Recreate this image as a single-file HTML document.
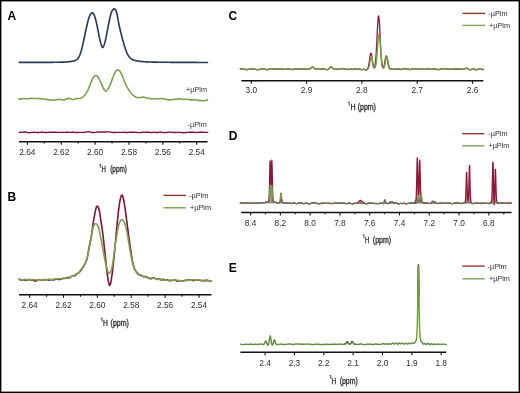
<!DOCTYPE html>
<html><head><meta charset="utf-8"><style>
html,body{margin:0;padding:0;background:#fff;}
svg{display:block;filter:opacity(1);}
text{font-family:"Liberation Sans", sans-serif;}
</style></head><body>
<svg width="520" height="393" viewBox="0 0 520 393">
<rect x="0" y="0" width="520" height="393" fill="#fff"/>
<defs>
<linearGradient id="gC" gradientUnits="userSpaceOnUse" x1="0" y1="60" x2="0" y2="65"><stop offset="0" stop-color="#76a04a"/><stop offset="1" stop-color="#76904a"/></linearGradient>
<linearGradient id="gD" gradientUnits="userSpaceOnUse" x1="0" y1="196" x2="0" y2="200.5"><stop offset="0" stop-color="#72a048"/><stop offset="1" stop-color="#6b775a"/></linearGradient>
<linearGradient id="gE" gradientUnits="userSpaceOnUse" x1="0" y1="336" x2="0" y2="341"><stop offset="0" stop-color="#6ea23e"/><stop offset="1" stop-color="#648a44"/></linearGradient>
</defs>
<text x="7.6" y="19.6" font-size="12.0" font-weight="bold" fill="#000">A</text>
<path d="M19.2 62.3L19.6 62.3L20 62.31L20.4 62.31L20.8 62.31L21.2 62.32L21.6 62.32L22 62.32L22.4 62.33L22.8 62.33L23.2 62.33L23.6 62.34L24 62.34L24.4 62.34L24.8 62.35L25.2 62.35L25.6 62.35L26 62.35L26.4 62.36L26.8 62.36L27.2 62.36L27.6 62.37L28 62.37L28.4 62.37L28.8 62.37L29.2 62.38L29.6 62.38L30 62.38L30.4 62.38L30.8 62.38L31.2 62.39L31.6 62.39L32 62.39L32.4 62.39L32.8 62.39L33.2 62.39L33.6 62.4L34 62.4L34.4 62.4L34.8 62.4L35.2 62.4L35.6 62.4L36 62.4L36.4 62.4L36.8 62.4L37.2 62.4L37.6 62.4L38 62.4L38.4 62.4L38.8 62.4L39.2 62.4L39.6 62.4L40 62.4L40.4 62.4L40.8 62.4L41.2 62.4L41.6 62.39L42 62.39L42.4 62.39L42.8 62.39L43.2 62.39L43.6 62.38L44 62.38L44.4 62.38L44.8 62.38L45.2 62.37L45.6 62.37L46 62.37L46.4 62.37L46.8 62.36L47.2 62.36L47.6 62.35L48 62.35L48.4 62.35L48.8 62.34L49.2 62.34L49.6 62.34L50 62.33L50.4 62.33L50.8 62.32L51.2 62.32L51.6 62.31L52 62.31L52.4 62.3L52.8 62.3L53.2 62.29L53.6 62.29L54 62.28L54.4 62.28L54.8 62.27L55.2 62.27L55.6 62.26L56 62.26L56.4 62.25L56.8 62.25L57.2 62.24L57.6 62.23L58 62.23L58.4 62.22L58.8 62.22L59.2 62.21L59.6 62.21L60 62.2L60.4 62.19L60.8 62.19L61.2 62.18L61.6 62.17L62 62.17L62.4 62.16L62.8 62.15L63.2 62.14L63.6 62.12L64 62.11L64.4 62.09L64.8 62.07L65.2 62.05L65.6 62.03L66 62L66.4 61.97L66.8 61.94L67.2 61.9L67.6 61.87L68 61.83L68.4 61.79L68.8 61.74L69.2 61.7L69.6 61.65L70 61.6L70.4 61.55L70.8 61.5L71.2 61.44L71.6 61.38L72 61.31L72.4 61.24L72.8 61.16L73.2 61.08L73.6 60.98L74 60.88L74.4 60.76L74.8 60.63L75.2 60.49L75.6 60.32L76 60.12L76.4 59.88L76.8 59.59L77.2 59.25L77.6 58.84L78 58.36L78.4 57.8L78.8 57.15L79.2 56.4L79.6 55.55L80 54.59L80.4 53.5L80.8 52.28L81.2 50.93L81.6 49.46L82 47.89L82.4 46.23L82.8 44.49L83.2 42.69L83.6 40.85L84 38.97L84.4 37.07L84.8 35.17L85.2 33.27L85.6 31.39L86 29.54L86.4 27.73L86.8 25.97L87.2 24.25L87.6 22.6L88 21.02L88.4 19.54L88.8 18.21L89.2 17.04L89.6 16.05L90 15.21L90.4 14.5L90.8 13.92L91.2 13.46L91.6 13.13L92 12.94L92.4 12.9L92.8 13.03L93.2 13.34L93.6 13.85L94 14.6L94.4 15.58L94.8 16.76L95.2 18.07L95.6 19.48L96 21L96.4 22.63L96.8 24.4L97.2 26.29L97.6 28.28L98 30.32L98.4 32.39L98.8 34.43L99.2 36.41L99.6 38.3L100 40.07L100.4 41.69L100.8 43.13L101.2 44.42L101.6 45.6L102 46.64L102.4 47.35L102.8 47.49L103.2 47.06L103.6 46.24L104 45.23L104.4 44.07L104.8 42.74L105.2 41.21L105.6 39.48L106 37.61L106.4 35.63L106.8 33.59L107.2 31.51L107.6 29.42L108 27.32L108.4 25.22L108.8 23.14L109.2 21.11L109.6 19.17L110 17.35L110.4 15.7L110.8 14.23L111.2 12.96L111.6 11.88L112 11L112.4 10.31L112.8 9.79L113.2 9.4L113.6 9.11L114 8.93L114.4 8.9L114.8 9.04L115.2 9.36L115.6 9.89L116 10.67L116.4 11.75L116.8 13.2L117.2 15.02L117.6 17.1L118 19.33L118.4 21.58L118.8 23.72L119.2 25.69L119.6 27.52L120 29.24L120.4 30.89L120.8 32.51L121.2 34.09L121.6 35.66L122 37.2L122.4 38.72L122.8 40.21L123.2 41.67L123.6 43.09L124 44.47L124.4 45.8L124.8 47.08L125.2 48.31L125.6 49.47L126 50.58L126.4 51.61L126.8 52.58L127.2 53.48L127.6 54.3L128 55.04L128.4 55.71L128.8 56.31L129.2 56.85L129.6 57.33L130 57.75L130.4 58.13L130.8 58.47L131.2 58.77L131.6 59.04L132 59.28L132.4 59.5L132.8 59.69L133.2 59.87L133.6 60.03L134 60.17L134.4 60.3L134.8 60.42L135.2 60.53L135.6 60.62L136 60.71L136.4 60.8L136.8 60.88L137.2 60.95L137.6 61.01L138 61.08L138.4 61.13L138.8 61.19L139.2 61.24L139.6 61.29L140 61.33L140.4 61.38L140.8 61.42L141.2 61.46L141.6 61.5L142 61.54L142.4 61.57L142.8 61.61L143.2 61.64L143.6 61.67L144 61.7L144.4 61.73L144.8 61.75L145.2 61.78L145.6 61.8L146 61.82L146.4 61.85L146.8 61.87L147.2 61.89L147.6 61.9L148 61.92L148.4 61.94L148.8 61.95L149.2 61.97L149.6 61.99L150 62L150.4 62.01L150.8 62.03L151.2 62.04L151.6 62.05L152 62.06L152.4 62.08L152.8 62.09L153.2 62.1L153.6 62.11L154 62.12L154.4 62.13L154.8 62.14L155.2 62.15L155.6 62.15L156 62.16L156.4 62.17L156.8 62.18L157.2 62.19L157.6 62.19L158 62.2L158.4 62.2L158.8 62.21L159.2 62.22L159.6 62.22L160 62.23L160.4 62.23L160.8 62.24L161.2 62.24L161.6 62.24L162 62.25L162.4 62.25L162.8 62.26L163.2 62.26L163.6 62.26L164 62.27L164.4 62.27L164.8 62.27L165.2 62.27L165.6 62.28L166 62.28L166.4 62.28L166.8 62.28L167.2 62.29L167.6 62.29L168 62.29L168.4 62.29L168.8 62.29L169.2 62.3L169.6 62.3L170 62.3L170.4 62.3L170.8 62.3L171.2 62.31L171.6 62.31L172 62.31L172.4 62.31L172.8 62.31L173.2 62.32L173.6 62.32L174 62.32L174.4 62.32L174.8 62.32L175.2 62.33L175.6 62.33L176 62.33L176.4 62.33L176.8 62.33L177.2 62.34L177.6 62.34L178 62.34L178.4 62.34L178.8 62.34L179.2 62.35L179.6 62.35L180 62.35L180.4 62.35L180.8 62.35L181.2 62.36L181.6 62.36L182 62.36L182.4 62.36L182.8 62.37L183.2 62.37L183.6 62.37L184 62.37L184.4 62.37L184.8 62.38L185.2 62.38L185.6 62.38L186 62.38L186.4 62.38L186.8 62.39L187.2 62.39L187.6 62.39L188 62.39L188.4 62.4L188.8 62.4L189.2 62.4L189.6 62.4L190 62.4L190.4 62.41L190.8 62.41L191.2 62.41L191.6 62.41L192 62.41L192.4 62.42L192.8 62.42L193.2 62.42L193.6 62.42L194 62.43L194.4 62.43L194.8 62.43L195.2 62.43L195.6 62.43L196 62.44L196.4 62.44L196.8 62.44L197.2 62.44L197.6 62.45L198 62.45L198.4 62.45L198.8 62.45L199.2 62.45L199.6 62.46L200 62.46L200.4 62.46L200.8 62.46L201.2 62.47L201.6 62.47L202 62.47L202.4 62.47L202.8 62.47L203.2 62.48L203.6 62.48L204 62.48L204.4 62.48L204.8 62.49L205.2 62.49L205.6 62.49L206 62.49L206.4 62.49L206.8 62.5L207.2 62.5L207.5 62.5" fill="none" stroke="#2e3858" stroke-width="1.65" stroke-linejoin="round" stroke-linecap="round"/>
<path d="M19 99.15L19.4 99.14L19.8 99.12L20.2 99.1L20.6 99.06L21 99.02L21.4 98.96L21.8 98.88L22.2 98.8L22.6 98.71L23 98.64L23.4 98.57L23.8 98.54L24.2 98.53L24.6 98.56L25 98.61L25.4 98.67L25.8 98.73L26.2 98.78L26.6 98.82L27 98.82L27.4 98.81L27.8 98.78L28.2 98.73L28.6 98.67L29 98.61L29.4 98.55L29.8 98.49L30.2 98.44L30.6 98.39L31 98.36L31.4 98.34L31.8 98.34L32.2 98.36L32.6 98.39L33 98.42L33.4 98.45L33.8 98.48L34.2 98.49L34.6 98.5L35 98.49L35.4 98.49L35.8 98.48L36.2 98.47L36.6 98.47L37 98.48L37.4 98.49L37.8 98.51L38.2 98.53L38.6 98.55L39 98.57L39.4 98.59L39.8 98.61L40.2 98.63L40.6 98.66L41 98.7L41.4 98.75L41.8 98.81L42.2 98.89L42.6 98.96L43 99.04L43.4 99.11L43.8 99.17L44.2 99.21L44.6 99.24L45 99.26L45.4 99.27L45.8 99.29L46.2 99.31L46.6 99.36L47 99.42L47.4 99.49L47.8 99.58L48.2 99.66L48.6 99.74L49 99.8L49.4 99.85L49.8 99.89L50.2 99.92L50.6 99.94L51 99.96L51.4 99.99L51.8 100.03L52.2 100.08L52.6 100.13L53 100.17L53.4 100.2L53.8 100.21L54.2 100.2L54.6 100.16L55 100.1L55.4 100.01L55.8 99.92L56.2 99.82L56.6 99.73L57 99.64L57.4 99.56L57.8 99.5L58.2 99.44L58.6 99.4L59 99.38L59.4 99.37L59.8 99.39L60.2 99.43L60.6 99.5L61 99.59L61.4 99.69L61.8 99.79L62.2 99.89L62.6 99.96L63 100L63.4 100L63.8 99.96L64.2 99.88L64.6 99.76L65 99.62L65.4 99.47L65.8 99.3L66.2 99.12L66.6 98.94L67 98.77L67.4 98.62L67.8 98.49L68.2 98.39L68.6 98.35L69 98.35L69.4 98.42L69.8 98.52L70.2 98.67L70.6 98.83L71 99L71.4 99.16L71.8 99.31L72.2 99.44L72.6 99.52L73 99.56L73.4 99.55L73.8 99.49L74.2 99.39L74.6 99.26L75 99.1L75.4 98.93L75.8 98.78L76.2 98.65L76.6 98.56L77 98.51L77.4 98.48L77.8 98.48L78.2 98.49L78.6 98.51L79 98.51L79.4 98.51L79.8 98.48L80.2 98.42L80.6 98.32L81 98.19L81.4 98.01L81.8 97.79L82.2 97.53L82.6 97.23L83 96.89L83.4 96.53L83.8 96.15L84.2 95.74L84.6 95.32L85 94.87L85.4 94.39L85.8 93.86L86.2 93.28L86.6 92.64L87 91.93L87.4 91.15L87.8 90.3L88.2 89.4L88.6 88.45L89 87.48L89.4 86.51L89.8 85.53L90.2 84.55L90.6 83.56L91 82.57L91.4 81.58L91.8 80.59L92.2 79.64L92.6 78.74L93 77.95L93.4 77.28L93.8 76.74L94.2 76.34L94.6 76.05L95 75.84L95.4 75.7L95.8 75.64L96.2 75.67L96.6 75.79L97 76.02L97.4 76.36L97.8 76.82L98.2 77.39L98.6 78.06L99 78.79L99.4 79.55L99.8 80.34L100.2 81.16L100.6 82L101 82.86L101.4 83.75L101.8 84.66L102.2 85.58L102.6 86.49L103 87.39L103.4 88.24L103.8 89.01L104.2 89.68L104.6 90.23L105 90.63L105.4 90.88L105.8 90.98L106.2 90.92L106.6 90.72L107 90.38L107.4 89.91L107.8 89.34L108.2 88.68L108.6 87.94L109 87.15L109.4 86.31L109.8 85.43L110.2 84.52L110.6 83.57L111 82.59L111.4 81.57L111.8 80.52L112.2 79.45L112.6 78.36L113 77.27L113.4 76.19L113.8 75.14L114.2 74.14L114.6 73.22L115 72.39L115.4 71.67L115.8 71.08L116.2 70.62L116.6 70.28L117 70.04L117.4 69.92L117.8 69.89L118.2 69.97L118.6 70.15L119 70.42L119.4 70.79L119.8 71.25L120.2 71.8L120.6 72.44L121 73.17L121.4 73.97L121.8 74.85L122.2 75.77L122.6 76.72L123 77.7L123.4 78.69L123.8 79.69L124.2 80.67L124.6 81.64L125 82.58L125.4 83.49L125.8 84.37L126.2 85.22L126.6 86.03L127 86.8L127.4 87.54L127.8 88.24L128.2 88.92L128.6 89.57L129 90.2L129.4 90.8L129.8 91.39L130.2 91.95L130.6 92.48L131 92.98L131.4 93.45L131.8 93.88L132.2 94.29L132.6 94.66L133 95.02L133.4 95.35L133.8 95.66L134.2 95.97L134.6 96.25L135 96.52L135.4 96.77L135.8 96.99L136.2 97.18L136.6 97.34L137 97.46L137.4 97.54L137.8 97.59L138.2 97.62L138.6 97.63L139 97.62L139.4 97.6L139.8 97.56L140.2 97.53L140.6 97.48L141 97.43L141.4 97.37L141.8 97.3L142.2 97.24L142.6 97.18L143 97.14L143.4 97.12L143.8 97.13L144.2 97.19L144.6 97.28L145 97.4L145.4 97.53L145.8 97.66L146.2 97.79L146.6 97.89L147 97.96L147.4 98.01L147.8 98.05L148.2 98.1L148.6 98.15L149 98.23L149.4 98.33L149.8 98.45L150.2 98.58L150.6 98.69L151 98.79L151.4 98.85L151.8 98.86L152.2 98.84L152.6 98.79L153 98.73L153.4 98.68L153.8 98.65L154.2 98.65L154.6 98.69L155 98.75L155.4 98.82L155.8 98.9L156.2 98.96L156.6 99L157 99L157.4 98.98L157.8 98.94L158.2 98.89L158.6 98.82L159 98.76L159.4 98.7L159.8 98.64L160.2 98.59L160.6 98.56L161 98.54L161.4 98.54L161.8 98.56L162.2 98.6L162.6 98.65L163 98.72L163.4 98.8L163.8 98.87L164.2 98.95L164.6 99.04L165 99.12L165.4 99.2L165.8 99.29L166.2 99.38L166.6 99.47L167 99.57L167.4 99.66L167.8 99.75L168.2 99.83L168.6 99.9L169 99.94L169.4 99.97L169.8 99.97L170.2 99.95L170.6 99.92L171 99.87L171.4 99.81L171.8 99.73L172.2 99.66L172.6 99.58L173 99.5L173.4 99.43L173.8 99.37L174.2 99.31L174.6 99.27L175 99.23L175.4 99.2L175.8 99.17L176.2 99.14L176.6 99.1L177 99.06L177.4 99.01L177.8 98.97L178.2 98.93L178.6 98.9L179 98.89L179.4 98.9L179.8 98.92L180.2 98.96L180.6 99.02L181 99.08L181.4 99.16L181.8 99.24L182.2 99.31L182.6 99.39L183 99.45L183.4 99.49L183.8 99.51L184.2 99.49L184.6 99.45L185 99.39L185.4 99.33L185.8 99.27L186.2 99.23L186.6 99.22L187 99.24L187.4 99.29L187.8 99.37L188.2 99.45L188.6 99.54L189 99.62L189.4 99.7L189.8 99.76L190.2 99.81L190.6 99.84L191 99.86L191.4 99.87L191.8 99.87L192.2 99.85L192.6 99.83L193 99.81L193.4 99.79L193.8 99.77L194.2 99.76L194.6 99.76L195 99.78L195.4 99.81L195.8 99.85L196.2 99.91L196.6 99.99L197 100.09L197.4 100.19L197.8 100.3L198.2 100.4L198.6 100.49L199 100.56L199.4 100.6L199.8 100.63L200.2 100.64L200.6 100.64L201 100.64L201.4 100.64L201.8 100.65L202.2 100.67L202.6 100.68L203 100.7L203.4 100.7L203.8 100.69L204.2 100.65L204.6 100.6L205 100.53L205.4 100.44L205.8 100.35L206.2 100.25L206.6 100.15L207 100.05L207.4 99.95L207.5 99.92" fill="none" stroke="#7da150" stroke-width="1.6" stroke-linejoin="round" stroke-linecap="round"/>
<path d="M19.2 132.27L19.7 132.3L20.2 132.32L20.7 132.34L21.2 132.34L21.7 132.33L22.2 132.29L22.7 132.22L23.2 132.15L23.7 132.07L24.2 132.01L24.7 131.97L25.2 131.98L25.7 132.05L26.2 132.15L26.7 132.27L27.2 132.41L27.7 132.53L28.2 132.62L28.7 132.67L29.2 132.69L29.7 132.67L30.2 132.63L30.7 132.58L31.2 132.52L31.7 132.46L32.2 132.41L32.7 132.37L33.2 132.33L33.7 132.31L34.2 132.3L34.7 132.31L35.2 132.34L35.7 132.37L36.2 132.41L36.7 132.44L37.2 132.47L37.7 132.48L38.2 132.48L38.7 132.47L39.2 132.45L39.7 132.42L40.2 132.39L40.7 132.36L41.2 132.32L41.7 132.29L42.2 132.27L42.7 132.26L43.2 132.27L43.7 132.3L44.2 132.34L44.7 132.39L45.2 132.44L45.7 132.48L46.2 132.5L46.7 132.49L47.2 132.46L47.7 132.42L48.2 132.38L48.7 132.34L49.2 132.3L49.7 132.29L50.2 132.28L50.7 132.29L51.2 132.3L51.7 132.3L52.2 132.3L52.7 132.29L53.2 132.27L53.7 132.25L54.2 132.23L54.7 132.23L55.2 132.23L55.7 132.25L56.2 132.29L56.7 132.33L57.2 132.37L57.7 132.4L58.2 132.42L58.7 132.42L59.2 132.4L59.7 132.38L60.2 132.36L60.7 132.34L61.2 132.34L61.7 132.34L62.2 132.37L62.7 132.39L63.2 132.42L63.7 132.43L64.2 132.43L64.7 132.41L65.2 132.38L65.7 132.34L66.2 132.3L66.7 132.27L67.2 132.26L67.7 132.27L68.2 132.29L68.7 132.32L69.2 132.34L69.7 132.36L70.2 132.37L70.7 132.35L71.2 132.32L71.7 132.28L72.2 132.24L72.7 132.22L73.2 132.22L73.7 132.24L74.2 132.28L74.7 132.34L75.2 132.39L75.7 132.44L76.2 132.48L76.7 132.49L77.2 132.48L77.7 132.46L78.2 132.43L78.7 132.4L79.2 132.38L79.7 132.36L80.2 132.36L80.7 132.36L81.2 132.36L81.7 132.37L82.2 132.38L82.7 132.38L83.2 132.38L83.7 132.36L84.2 132.33L84.7 132.29L85.2 132.22L85.7 132.14L86.2 132.05L86.7 131.96L87.2 131.88L87.7 131.82L88.2 131.8L88.7 131.81L89.2 131.86L89.7 131.93L90.2 132.03L90.7 132.14L91.2 132.26L91.7 132.37L92.2 132.48L92.7 132.56L93.2 132.62L93.7 132.64L94.2 132.63L94.7 132.58L95.2 132.49L95.7 132.39L96.2 132.28L96.7 132.18L97.2 132.1L97.7 132.06L98.2 132.04L98.7 132.04L99.2 132.06L99.7 132.07L100.2 132.08L100.7 132.07L101.2 132.05L101.7 132.03L102.2 132L102.7 131.98L103.2 131.96L103.7 131.95L104.2 131.96L104.7 131.96L105.2 131.96L105.7 131.95L106.2 131.93L106.7 131.9L107.2 131.87L107.7 131.85L108.2 131.85L108.7 131.87L109.2 131.91L109.7 131.99L110.2 132.08L110.7 132.18L111.2 132.27L111.7 132.35L112.2 132.42L112.7 132.46L113.2 132.48L113.7 132.49L114.2 132.48L114.7 132.47L115.2 132.45L115.7 132.44L116.2 132.42L116.7 132.4L117.2 132.39L117.7 132.38L118.2 132.38L118.7 132.38L119.2 132.39L119.7 132.4L120.2 132.4L120.7 132.4L121.2 132.39L121.7 132.38L122.2 132.36L122.7 132.34L123.2 132.32L123.7 132.32L124.2 132.32L124.7 132.35L125.2 132.39L125.7 132.43L126.2 132.46L126.7 132.48L127.2 132.48L127.7 132.45L128.2 132.4L128.7 132.34L129.2 132.27L129.7 132.22L130.2 132.18L130.7 132.17L131.2 132.18L131.7 132.2L132.2 132.23L132.7 132.26L133.2 132.29L133.7 132.3L134.2 132.31L134.7 132.32L135.2 132.33L135.7 132.35L136.2 132.39L136.7 132.43L137.2 132.49L137.7 132.55L138.2 132.59L138.7 132.62L139.2 132.62L139.7 132.59L140.2 132.53L140.7 132.45L141.2 132.37L141.7 132.3L142.2 132.24L142.7 132.19L143.2 132.17L143.7 132.17L144.2 132.17L144.7 132.18L145.2 132.19L145.7 132.19L146.2 132.2L146.7 132.2L147.2 132.21L147.7 132.23L148.2 132.27L148.7 132.31L149.2 132.36L149.7 132.42L150.2 132.46L150.7 132.49L151.2 132.5L151.7 132.47L152.2 132.43L152.7 132.39L153.2 132.34L153.7 132.32L154.2 132.31L154.7 132.35L155.2 132.4L155.7 132.47L156.2 132.52L156.7 132.56L157.2 132.55L157.7 132.49L158.2 132.4L158.7 132.3L159.2 132.19L159.7 132.11L160.2 132.07L160.7 132.08L161.2 132.14L161.7 132.23L162.2 132.33L162.7 132.43L163.2 132.52L163.7 132.58L164.2 132.61L164.7 132.61L165.2 132.6L165.7 132.56L166.2 132.51L166.7 132.44L167.2 132.36L167.7 132.29L168.2 132.22L168.7 132.17L169.2 132.14L169.7 132.14L170.2 132.16L170.7 132.2L171.2 132.26L171.7 132.31L172.2 132.37L172.7 132.43L173.2 132.47L173.7 132.5L174.2 132.53L174.7 132.54L175.2 132.53L175.7 132.51L176.2 132.48L176.7 132.45L177.2 132.41L177.7 132.38L178.2 132.36L178.7 132.36L179.2 132.36L179.7 132.38L180.2 132.41L180.7 132.45L181.2 132.5L181.7 132.55L182.2 132.6L182.7 132.65L183.2 132.69L183.7 132.71L184.2 132.71L184.7 132.68L185.2 132.63L185.7 132.57L186.2 132.5L186.7 132.44L187.2 132.39L187.7 132.36L188.2 132.34L188.7 132.33L189.2 132.32L189.7 132.32L190.2 132.31L190.7 132.29L191.2 132.27L191.7 132.25L192.2 132.23L192.7 132.23L193.2 132.23L193.7 132.26L194.2 132.3L194.7 132.35L195.2 132.39L195.7 132.43L196.2 132.45L196.7 132.45L197.2 132.43L197.7 132.41L198.2 132.38L198.7 132.34L199.2 132.32L199.7 132.31L200.2 132.3L200.7 132.31L201.2 132.31L201.7 132.32L202.2 132.32L202.7 132.32L203.2 132.32L203.7 132.32L204.2 132.32L204.7 132.32L205.2 132.33L205.7 132.35L206.2 132.37L206.7 132.4L207.2 132.42L207.7 132.44" fill="none" stroke="#801237" stroke-width="1.4" stroke-linejoin="round" stroke-linecap="round"/>
<text x="207" y="91.9" font-size="7.3" text-anchor="end" fill="#2e2e2e">+µPlm</text>
<text x="206.8" y="126.9" font-size="7.3" text-anchor="end" fill="#2e2e2e">-µPlm</text>
<line x1="19" y1="141.7" x2="207.5" y2="141.7" stroke="#111" stroke-width="1.5"/>
<line x1="27.4" y1="141.7" x2="27.4" y2="144.7" stroke="#111" stroke-width="1.1"/>
<text x="27.4" y="155.3" font-size="8.15" text-anchor="middle" textLength="16.15" lengthAdjust="spacingAndGlyphs" fill="#2e2e2e">2.64</text>
<line x1="61.26" y1="141.7" x2="61.26" y2="144.7" stroke="#111" stroke-width="1.1"/>
<text x="61.26" y="155.3" font-size="8.15" text-anchor="middle" textLength="16.15" lengthAdjust="spacingAndGlyphs" fill="#2e2e2e">2.62</text>
<line x1="95.12" y1="141.7" x2="95.12" y2="144.7" stroke="#111" stroke-width="1.1"/>
<text x="95.12" y="155.3" font-size="8.15" text-anchor="middle" textLength="16.15" lengthAdjust="spacingAndGlyphs" fill="#2e2e2e">2.60</text>
<line x1="128.98" y1="141.7" x2="128.98" y2="144.7" stroke="#111" stroke-width="1.1"/>
<text x="128.98" y="155.3" font-size="8.15" text-anchor="middle" textLength="16.15" lengthAdjust="spacingAndGlyphs" fill="#2e2e2e">2.58</text>
<line x1="162.84" y1="141.7" x2="162.84" y2="144.7" stroke="#111" stroke-width="1.1"/>
<text x="162.84" y="155.3" font-size="8.15" text-anchor="middle" textLength="16.15" lengthAdjust="spacingAndGlyphs" fill="#2e2e2e">2.56</text>
<line x1="196.7" y1="141.7" x2="196.7" y2="144.7" stroke="#111" stroke-width="1.1"/>
<text x="196.7" y="155.3" font-size="8.15" text-anchor="middle" textLength="16.15" lengthAdjust="spacingAndGlyphs" fill="#2e2e2e">2.54</text>
<line x1="44.33" y1="141.7" x2="44.33" y2="143.6" stroke="#111" stroke-width="1.1"/>
<line x1="78.19" y1="141.7" x2="78.19" y2="143.6" stroke="#111" stroke-width="1.1"/>
<line x1="112.05" y1="141.7" x2="112.05" y2="143.6" stroke="#111" stroke-width="1.1"/>
<line x1="145.91" y1="141.7" x2="145.91" y2="143.6" stroke="#111" stroke-width="1.1"/>
<line x1="179.77" y1="141.7" x2="179.77" y2="143.6" stroke="#111" stroke-width="1.1"/>
<path d="M99.45 164.9L100.35 163.9L100.35 167.8" fill="none" stroke="#333" stroke-width="0.85"/>
<text x="101.5" y="172.4" font-size="8.4" textLength="4.4" lengthAdjust="spacingAndGlyphs" fill="#2e2e2e" stroke="#2e2e2e" stroke-width="0.32">H</text>
<text x="110.2" y="172.4" font-size="8.4" textLength="16.8" lengthAdjust="spacingAndGlyphs" fill="#2e2e2e" stroke="#2e2e2e" stroke-width="0.32">(ppm)</text>
<text x="7.6" y="201.2" font-size="12.0" font-weight="bold" fill="#000">B</text>
<path d="M19.2 279.13L19.6 279.3L20 279.52L20.4 279.75L20.8 279.96L21.2 280.09L21.6 280.14L22 280.11L22.4 280.03L22.8 279.94L23.2 279.86L23.6 279.82L24 279.82L24.4 279.85L24.8 279.9L25.2 279.96L25.6 280.03L26 280.09L26.4 280.13L26.8 280.13L27.2 280.08L27.6 279.97L28 279.84L28.4 279.7L28.8 279.6L29.2 279.58L29.6 279.65L30 279.79L30.4 279.95L30.8 280.08L31.2 280.14L31.6 280.11L32 280.03L32.4 279.93L32.8 279.9L33.2 279.97L33.6 280.18L34 280.49L34.4 280.81L34.8 281.08L35.2 281.23L35.6 281.2L36 281.03L36.4 280.78L36.8 280.52L37.2 280.29L37.6 280.14L38 280.08L38.4 280.06L38.8 280.08L39.2 280.1L39.6 280.12L40 280.13L40.4 280.13L40.8 280.12L41.2 280.1L41.6 280.08L42 280.06L42.4 280.03L42.8 280L43.2 279.96L43.6 279.92L44 279.88L44.4 279.84L44.8 279.81L45.2 279.8L45.6 279.8L46 279.81L46.4 279.84L46.8 279.88L47.2 279.93L47.6 279.99L48 280.05L48.4 280.09L48.8 280.11L49.2 280.09L49.6 280.03L50 279.95L50.4 279.85L50.8 279.78L51.2 279.74L51.6 279.76L52 279.81L52.4 279.88L52.8 279.93L53.2 279.93L53.6 279.88L54 279.78L54.4 279.65L54.8 279.51L55.2 279.39L55.6 279.3L56 279.25L56.4 279.22L56.8 279.22L57.2 279.26L57.6 279.32L58 279.39L58.4 279.46L58.8 279.5L59.2 279.51L59.6 279.47L60 279.38L60.4 279.27L60.8 279.13L61.2 278.99L61.6 278.85L62 278.72L62.4 278.6L62.8 278.5L63.2 278.41L63.6 278.35L64 278.3L64.4 278.26L64.8 278.23L65.2 278.18L65.6 278.13L66 278.08L66.4 278.03L66.8 277.99L67.2 277.98L67.6 278L68 278.02L68.4 278.03L68.8 277.99L69.2 277.89L69.6 277.7L70 277.45L70.4 277.17L70.8 276.88L71.2 276.62L71.6 276.4L72 276.22L72.4 276.09L72.8 275.99L73.2 275.92L73.6 275.86L74 275.81L74.4 275.73L74.8 275.61L75.2 275.42L75.6 275.15L76 274.82L76.4 274.46L76.8 274.09L77.2 273.74L77.6 273.42L78 273.13L78.4 272.84L78.8 272.54L79.2 272.21L79.6 271.84L80 271.42L80.4 270.97L80.8 270.47L81.2 269.95L81.6 269.39L82 268.81L82.4 268.22L82.8 267.63L83.2 267.01L83.6 266.37L84 265.69L84.4 264.97L84.8 264.22L85.2 263.42L85.6 262.58L86 261.64L86.4 260.54L86.8 259.24L87.2 257.68L87.6 255.83L88 253.76L88.4 251.53L88.8 249.25L89.2 247.04L89.6 245L90 243.13L90.4 241.32L90.8 239.41L91.2 237.24L91.6 234.67L92 231.72L92.4 228.61L92.8 225.57L93.2 222.81L93.6 220.36L94 218.13L94.4 216.01L94.8 213.91L95.2 211.82L95.6 209.9L96 208.31L96.4 207.19L96.8 206.52L97.2 206.24L97.6 206.3L98 206.69L98.4 207.46L98.8 208.64L99.2 210.25L99.6 212.26L100 214.6L100.4 217.19L100.8 219.93L101.2 222.67L101.6 225.33L102 227.95L102.4 230.7L102.8 233.72L103.2 237.04L103.6 240.6L104 244.31L104.4 248.08L104.8 251.87L105.2 255.65L105.6 259.37L106 263.02L106.4 266.56L106.8 269.96L107.2 273.2L107.6 276.23L108 278.98L108.4 281.39L108.8 283.36L109.2 284.79L109.6 285.44L110 285.09L110.4 283.97L110.8 282.33L111.2 280.25L111.6 277.75L112 274.89L112.4 271.71L112.8 268.31L113.2 264.75L113.6 261.08L114 257.28L114.4 253.33L114.8 249.2L115.2 244.91L115.6 240.51L116 236.06L116.4 231.65L116.8 227.34L117.2 223.17L117.6 219.17L118 215.35L118.4 211.75L118.8 208.42L119.2 205.41L119.6 202.79L120 200.54L120.4 198.66L120.8 197.11L121.2 195.92L121.6 195.2L122 195.06L122.4 195.54L122.8 196.55L123.2 197.97L123.6 199.71L124 201.74L124.4 204.05L124.8 206.63L125.2 209.4L125.6 212.31L126 215.3L126.4 218.31L126.8 221.35L127.2 224.43L127.6 227.55L128 230.68L128.4 233.79L128.8 236.84L129.2 239.82L129.6 242.7L130 245.48L130.4 248.18L130.8 250.82L131.2 253.43L131.6 256.02L132 258.53L132.4 260.88L132.8 263L133.2 264.82L133.6 266.34L134 267.58L134.4 268.6L134.8 269.45L135.2 270.16L135.6 270.78L136 271.33L136.4 271.82L136.8 272.3L137.2 272.77L137.6 273.27L138 273.75L138.4 274.2L138.8 274.57L139.2 274.84L139.6 274.99L140 275.06L140.4 275.1L140.8 275.17L141.2 275.31L141.6 275.55L142 275.84L142.4 276.15L142.8 276.41L143.2 276.59L143.6 276.65L144 276.61L144.4 276.53L144.8 276.46L145.2 276.45L145.6 276.53L146 276.68L146.4 276.88L146.8 277.11L147.2 277.33L147.6 277.53L148 277.71L148.4 277.88L148.8 278.04L149.2 278.2L149.6 278.36L150 278.5L150.4 278.61L150.8 278.65L151.2 278.61L151.6 278.49L152 278.3L152.4 278.1L152.8 277.94L153.2 277.85L153.6 277.88L154 277.99L154.4 278.17L154.8 278.38L155.2 278.59L155.6 278.76L156 278.91L156.4 279.01L156.8 279.07L157.2 279.08L157.6 279.05L158 278.99L158.4 278.96L158.8 278.96L159.2 279.04L159.6 279.22L160 279.45L160.4 279.68L160.8 279.86L161.2 279.94L161.6 279.89L162 279.75L162.4 279.57L162.8 279.41L163.2 279.34L163.6 279.4L164 279.56L164.4 279.75L164.8 279.92L165.2 280.03L165.6 280.03L166 279.96L166.4 279.86L166.8 279.79L167.2 279.81L167.6 279.93L168 280.13L168.4 280.37L168.8 280.58L169.2 280.72L169.6 280.75L170 280.71L170.4 280.61L170.8 280.51L171.2 280.43L171.6 280.41L172 280.43L172.4 280.45L172.8 280.46L173.2 280.43L173.6 280.34L174 280.22L174.4 280.11L174.8 280.06L175.2 280.09L175.6 280.24L176 280.47L176.4 280.72L176.8 280.96L177.2 281.12L177.6 281.17L178 281.14L178.4 281.04L178.8 280.92L179.2 280.82L179.6 280.75L180 280.73L180.4 280.72L180.8 280.74L181.2 280.77L181.6 280.79L182 280.82L182.4 280.83L182.8 280.83L183.2 280.81L183.6 280.78L184 280.72L184.4 280.66L184.8 280.58L185.2 280.5L185.6 280.41L186 280.32L186.4 280.24L186.8 280.17L187.2 280.12L187.6 280.09L188 280.07L188.4 280.06L188.8 280.04L189.2 280.01L189.6 279.96L190 279.91L190.4 279.88L190.8 279.89L191.2 279.96L191.6 280.1L192 280.28L192.4 280.45L192.8 280.57L193.2 280.6L193.6 280.5L194 280.32L194.4 280.11L194.8 279.9L195.2 279.77L195.6 279.73L196 279.77L196.4 279.87L196.8 279.98L197.2 280.09L197.6 280.16L198 280.2L198.4 280.23L198.8 280.24L199.2 280.26L199.6 280.3L200 280.34L200.4 280.4L200.8 280.47L201.2 280.54L201.6 280.62L202 280.69L202.4 280.75L202.8 280.78L203.2 280.77L203.6 280.72L204 280.63L204.4 280.53L204.8 280.43L205.2 280.34L205.6 280.27L206 280.23L206.4 280.22L206.8 280.24L207.2 280.29L207.6 280.38L208 280.5L208.4 280.63L208.8 280.77L209.2 280.9L209.6 281.03L210 281.14L210.4 281.23L210.8 281.31L211.2 281.36L211.4 281.37" fill="none" stroke="#801237" stroke-width="1.6" stroke-linejoin="round" stroke-linecap="round"/>
<path d="M19.2 279.46L19.6 279.58L20 279.7L20.4 279.81L20.8 279.91L21.2 279.98L21.6 280.02L22 280.01L22.4 279.98L22.8 279.9L23.2 279.8L23.6 279.66L24 279.52L24.4 279.4L24.8 279.31L25.2 279.28L25.6 279.33L26 279.43L26.4 279.55L26.8 279.67L27.2 279.74L27.6 279.76L28 279.73L28.4 279.68L28.8 279.64L29.2 279.63L29.6 279.67L30 279.73L30.4 279.81L30.8 279.85L31.2 279.85L31.6 279.79L32 279.68L32.4 279.56L32.8 279.47L33.2 279.43L33.6 279.47L34 279.57L34.4 279.69L34.8 279.81L35.2 279.9L35.6 279.93L36 279.92L36.4 279.9L36.8 279.88L37.2 279.89L37.6 279.94L38 280.03L38.4 280.11L38.8 280.18L39.2 280.2L39.6 280.17L40 280.09L40.4 280L40.8 279.91L41.2 279.86L41.6 279.86L42 279.89L42.4 279.92L42.8 279.93L43.2 279.87L43.6 279.74L44 279.57L44.4 279.41L44.8 279.31L45.2 279.32L45.6 279.46L46 279.7L46.4 279.95L46.8 280.13L47.2 280.19L47.6 280.06L48 279.8L48.4 279.5L48.8 279.22L49.2 279.06L49.6 279.06L50 279.19L50.4 279.39L50.8 279.58L51.2 279.71L51.6 279.73L52 279.66L52.4 279.53L52.8 279.38L53.2 279.23L53.6 279.13L54 279.05L54.4 279.01L54.8 278.98L55.2 278.96L55.6 278.95L56 278.94L56.4 278.93L56.8 278.9L57.2 278.87L57.6 278.83L58 278.79L58.4 278.75L58.8 278.72L59.2 278.71L59.6 278.73L60 278.77L60.4 278.8L60.8 278.82L61.2 278.79L61.6 278.73L62 278.63L62.4 278.53L62.8 278.46L63.2 278.43L63.6 278.46L64 278.53L64.4 278.58L64.8 278.59L65.2 278.51L65.6 278.31L66 278.03L66.4 277.73L66.8 277.46L67.2 277.26L67.6 277.17L68 277.16L68.4 277.2L68.8 277.22L69.2 277.19L69.6 277.08L70 276.9L70.4 276.7L70.8 276.51L71.2 276.37L71.6 276.31L72 276.3L72.4 276.29L72.8 276.25L73.2 276.12L73.6 275.88L74 275.57L74.4 275.21L74.8 274.87L75.2 274.58L75.6 274.37L76 274.23L76.4 274.13L76.8 274.04L77.2 273.92L77.6 273.75L78 273.52L78.4 273.21L78.8 272.83L79.2 272.35L79.6 271.79L80 271.17L80.4 270.53L80.8 269.9L81.2 269.33L81.6 268.82L82 268.38L82.4 267.96L82.8 267.53L83.2 267.04L83.6 266.46L84 265.79L84.4 265.03L84.8 264.21L85.2 263.33L85.6 262.4L86 261.4L86.4 260.29L86.8 259.04L87.2 257.63L87.6 256.04L88 254.27L88.4 252.32L88.8 250.21L89.2 247.99L89.6 245.7L90 243.41L90.4 241.13L90.8 238.86L91.2 236.61L91.6 234.36L92 232.16L92.4 230.14L92.8 228.45L93.2 227.13L93.6 226.09L94 225.25L94.4 224.58L94.8 224.1L95.2 223.81L95.6 223.71L96 223.74L96.4 223.89L96.8 224.17L97.2 224.61L97.6 225.23L98 226.01L98.4 226.95L98.8 228.13L99.2 229.71L99.6 231.78L100 234.06L100.4 236.22L100.8 238.27L101.2 240.27L101.6 242.27L102 244.33L102.4 246.45L102.8 248.61L103.2 250.8L103.6 253L104 255.18L104.4 257.3L104.8 259.34L105.2 261.24L105.6 263.01L106 264.68L106.4 266.28L106.8 267.83L107.2 269.34L107.6 270.74L108 271.91L108.4 272.77L108.8 273.29L109.2 273.45L109.6 273.23L110 272.72L110.4 271.99L110.8 271.07L111.2 269.97L111.6 268.64L112 267.03L112.4 265.09L112.8 262.8L113.2 260.21L113.6 257.32L114 254.25L114.4 251.13L114.8 248.1L115.2 245.27L115.6 242.63L116 240.09L116.4 237.59L116.8 235.05L117.2 232.51L117.6 230.12L118 228.04L118.4 226.32L118.8 224.86L119.2 223.59L119.6 222.46L120 221.51L120.4 220.74L120.8 220.18L121.2 219.82L121.6 219.67L122 219.69L122.4 219.85L122.8 220.15L123.2 220.55L123.6 221.06L124 221.68L124.4 222.45L124.8 223.42L125.2 224.61L125.6 226.04L126 227.66L126.4 229.45L126.8 231.36L127.2 233.43L127.6 235.67L128 238.05L128.4 240.52L128.8 243L129.2 245.45L129.6 247.88L130 250.27L130.4 252.58L130.8 254.75L131.2 256.74L131.6 258.54L132 260.15L132.4 261.63L132.8 263.01L133.2 264.33L133.6 265.61L134 266.84L134.4 268.01L134.8 269.1L135.2 270.09L135.6 270.98L136 271.75L136.4 272.43L136.8 273.01L137.2 273.5L137.6 273.9L138 274.23L138.4 274.51L138.8 274.75L139.2 274.96L139.6 275.16L140 275.35L140.4 275.54L140.8 275.72L141.2 275.88L141.6 276.01L142 276.13L142.4 276.23L142.8 276.33L143.2 276.42L143.6 276.53L144 276.65L144.4 276.78L144.8 276.91L145.2 277.06L145.6 277.22L146 277.37L146.4 277.51L146.8 277.62L147.2 277.68L147.6 277.69L148 277.67L148.4 277.65L148.8 277.66L149.2 277.73L149.6 277.87L150 278.06L150.4 278.26L150.8 278.44L151.2 278.57L151.6 278.6L152 278.57L152.4 278.5L152.8 278.4L153.2 278.31L153.6 278.24L154 278.2L154.4 278.22L154.8 278.29L155.2 278.42L155.6 278.63L156 278.88L156.4 279.13L156.8 279.35L157.2 279.5L157.6 279.55L158 279.52L158.4 279.43L158.8 279.31L159.2 279.19L159.6 279.09L160 279.03L160.4 279.01L160.8 279.06L161.2 279.18L161.6 279.37L162 279.61L162.4 279.85L162.8 280.05L163.2 280.17L163.6 280.17L164 280.09L164.4 279.97L164.8 279.88L165.2 279.84L165.6 279.89L166 280.02L166.4 280.17L166.8 280.31L167.2 280.39L167.6 280.38L168 280.32L168.4 280.22L168.8 280.14L169.2 280.09L169.6 280.1L170 280.17L170.4 280.25L170.8 280.33L171.2 280.38L171.6 280.37L172 280.33L172.4 280.26L172.8 280.18L173.2 280.12L173.6 280.08L174 280.07L174.4 280.07L174.8 280.09L175.2 280.13L175.6 280.17L176 280.22L176.4 280.27L176.8 280.32L177.2 280.37L177.6 280.43L178 280.47L178.4 280.52L178.8 280.55L179.2 280.57L179.6 280.59L180 280.6L180.4 280.62L180.8 280.67L181.2 280.74L181.6 280.85L182 280.98L182.4 281.08L182.8 281.12L183.2 281.08L183.6 280.92L184 280.7L184.4 280.46L184.8 280.25L185.2 280.13L185.6 280.14L186 280.23L186.4 280.37L186.8 280.5L187.2 280.57L187.6 280.54L188 280.45L188.4 280.32L188.8 280.19L189.2 280.1L189.6 280.07L190 280.08L190.4 280.12L190.8 280.15L191.2 280.16L191.6 280.13L192 280.06L192.4 279.97L192.8 279.89L193.2 279.81L193.6 279.77L194 279.75L194.4 279.76L194.8 279.79L195.2 279.83L195.6 279.89L196 279.95L196.4 280.01L196.8 280.05L197.2 280.07L197.6 280.07L198 280.05L198.4 280.03L198.8 280.03L199.2 280.06L199.6 280.13L200 280.23L200.4 280.33L200.8 280.42L201.2 280.47L201.6 280.47L202 280.44L202.4 280.41L202.8 280.39L203.2 280.42L203.6 280.51L204 280.65L204.4 280.8L204.8 280.93L205.2 281.02L205.6 281.05L206 281.03L206.4 280.97L206.8 280.91L207.2 280.85L207.6 280.82L208 280.82L208.4 280.84L208.8 280.89L209.2 280.95L209.6 281.02L210 281.1L210.4 281.17L210.8 281.23L211.2 281.28L211.4 281.29" fill="none" stroke="#7da150" stroke-width="1.6" stroke-linejoin="round" stroke-linecap="round"/>
<line x1="163.4" y1="195.4" x2="185.9" y2="195.4" stroke="#8e3530" stroke-width="1.35"/>
<line x1="163.4" y1="207.8" x2="185.9" y2="207.8" stroke="#78a058" stroke-width="1.4"/>
<text x="189.2" y="198" font-size="7.3" fill="#2e2e2e">-µPlm</text>
<text x="190" y="210.4" font-size="7.3" fill="#2e2e2e">+µPlm</text>
<line x1="19" y1="294.8" x2="211.4" y2="294.8" stroke="#111" stroke-width="1.5"/>
<line x1="29.6" y1="294.8" x2="29.6" y2="297.8" stroke="#111" stroke-width="1.1"/>
<text x="29.6" y="308.2" font-size="8.15" text-anchor="middle" textLength="16.15" lengthAdjust="spacingAndGlyphs" fill="#2e2e2e">2.64</text>
<line x1="63.48" y1="294.8" x2="63.48" y2="297.8" stroke="#111" stroke-width="1.1"/>
<text x="63.48" y="308.2" font-size="8.15" text-anchor="middle" textLength="16.15" lengthAdjust="spacingAndGlyphs" fill="#2e2e2e">2.62</text>
<line x1="97.36" y1="294.8" x2="97.36" y2="297.8" stroke="#111" stroke-width="1.1"/>
<text x="97.36" y="308.2" font-size="8.15" text-anchor="middle" textLength="16.15" lengthAdjust="spacingAndGlyphs" fill="#2e2e2e">2.60</text>
<line x1="131.24" y1="294.8" x2="131.24" y2="297.8" stroke="#111" stroke-width="1.1"/>
<text x="131.24" y="308.2" font-size="8.15" text-anchor="middle" textLength="16.15" lengthAdjust="spacingAndGlyphs" fill="#2e2e2e">2.58</text>
<line x1="165.12" y1="294.8" x2="165.12" y2="297.8" stroke="#111" stroke-width="1.1"/>
<text x="165.12" y="308.2" font-size="8.15" text-anchor="middle" textLength="16.15" lengthAdjust="spacingAndGlyphs" fill="#2e2e2e">2.56</text>
<line x1="199" y1="294.8" x2="199" y2="297.8" stroke="#111" stroke-width="1.1"/>
<text x="199" y="308.2" font-size="8.15" text-anchor="middle" textLength="16.15" lengthAdjust="spacingAndGlyphs" fill="#2e2e2e">2.54</text>
<line x1="46.54" y1="294.8" x2="46.54" y2="296.7" stroke="#111" stroke-width="1.1"/>
<line x1="80.42" y1="294.8" x2="80.42" y2="296.7" stroke="#111" stroke-width="1.1"/>
<line x1="114.3" y1="294.8" x2="114.3" y2="296.7" stroke="#111" stroke-width="1.1"/>
<line x1="148.18" y1="294.8" x2="148.18" y2="296.7" stroke="#111" stroke-width="1.1"/>
<line x1="182.06" y1="294.8" x2="182.06" y2="296.7" stroke="#111" stroke-width="1.1"/>
<path d="M101.05 318.7L101.95 317.7L101.95 321.6" fill="none" stroke="#333" stroke-width="0.85"/>
<text x="102.9" y="326.2" font-size="8.4" textLength="4.8" lengthAdjust="spacingAndGlyphs" fill="#2e2e2e" stroke="#2e2e2e" stroke-width="0.32">H</text>
<text x="110.6" y="326.2" font-size="8.4" textLength="18.2" lengthAdjust="spacingAndGlyphs" fill="#2e2e2e" stroke="#2e2e2e" stroke-width="0.32">(ppm)</text>
<text x="228.6" y="19.6" font-size="12.0" font-weight="bold" fill="#000">C</text>
<path d="M240.4 68.89L240.75 68.87L241.1 68.86L241.45 68.86L241.8 68.88L242.15 68.94L242.5 69.01L242.85 69.09L243.2 69.16L243.55 69.22L243.9 69.27L244.25 69.31L244.6 69.35L244.95 69.4L245.3 69.45L245.65 69.51L246 69.55L246.35 69.59L246.7 69.6L247.05 69.59L247.4 69.55L247.75 69.51L248.1 69.46L248.45 69.41L248.8 69.36L249.15 69.31L249.5 69.27L249.85 69.22L250.2 69.17L250.55 69.12L250.9 69.09L251.25 69.06L251.6 69.03L251.95 69.01L252.3 68.99L252.65 68.98L253 68.97L253.35 68.97L253.7 68.99L254.05 69.03L254.4 69.08L254.75 69.14L255.1 69.21L255.45 69.28L255.8 69.36L256.15 69.44L256.5 69.52L256.85 69.58L257.2 69.64L257.55 69.68L257.9 69.7L258.25 69.69L258.6 69.65L258.95 69.57L259.3 69.48L259.65 69.39L260 69.3L260.35 69.24L260.7 69.18L261.05 69.12L261.4 69.07L261.75 69.01L262.1 68.94L262.45 68.89L262.8 68.85L263.15 68.83L263.5 68.84L263.85 68.87L264.2 68.91L264.55 68.98L264.9 69.07L265.25 69.18L265.6 69.3L265.95 69.44L266.3 69.57L266.65 69.69L267 69.76L267.35 69.77L267.7 69.72L268.05 69.61L268.4 69.48L268.75 69.32L269.1 69.17L269.45 69.02L269.8 68.89L270.15 68.79L270.5 68.71L270.85 68.66L271.2 68.66L271.55 68.72L271.9 68.81L272.25 68.92L272.6 69.03L272.95 69.13L273.3 69.18L273.65 69.18L274 69.13L274.35 69.05L274.7 68.95L275.05 68.85L275.4 68.78L275.75 68.73L276.1 68.73L276.45 68.77L276.8 68.83L277.15 68.91L277.5 68.98L277.85 69.03L278.2 69.06L278.55 69.06L278.9 69.05L279.25 69.04L279.6 69.04L279.95 69.04L280.3 69.05L280.65 69.05L281 69.04L281.35 69.03L281.7 69.01L282.05 69.01L282.4 69.03L282.75 69.08L283.1 69.15L283.45 69.23L283.8 69.3L284.15 69.35L284.5 69.38L284.85 69.39L285.2 69.37L285.55 69.34L285.9 69.31L286.25 69.27L286.6 69.23L286.95 69.18L287.3 69.12L287.65 69.07L288 69.03L288.35 69.01L288.7 69.02L289.05 69.06L289.4 69.11L289.75 69.16L290.1 69.21L290.45 69.25L290.8 69.29L291.15 69.34L291.5 69.39L291.85 69.45L292.2 69.49L292.55 69.51L292.9 69.49L293.25 69.42L293.6 69.3L293.95 69.15L294.3 69L294.65 68.86L295 68.76L295.35 68.72L295.7 68.73L296.05 68.79L296.4 68.88L296.75 68.97L297.1 69.05L297.45 69.1L297.8 69.11L298.15 69.07L298.5 69.02L298.85 68.97L299.2 68.94L299.55 68.94L299.9 68.97L300.25 69.03L300.6 69.08L300.95 69.12L301.3 69.14L301.65 69.14L302 69.12L302.35 69.09L302.7 69.03L303.05 68.97L303.4 68.91L303.75 68.85L304.1 68.82L304.45 68.83L304.8 68.88L305.15 68.97L305.5 69.07L305.85 69.18L306.2 69.26L306.55 69.31L306.9 69.31L307.25 69.29L307.6 69.25L307.95 69.21L308.3 69.18L308.65 69.15L309 69.12L309.35 69.06L309.7 68.95L310.05 68.79L310.4 68.56L310.75 68.27L311.1 67.93L311.45 67.59L311.8 67.29L312.15 67.1L312.5 67.04L312.85 67.13L313.2 67.36L313.55 67.67L313.9 68.01L314.25 68.34L314.6 68.62L314.95 68.82L315.3 68.95L315.65 69.02L316 69.02L316.35 69L316.7 68.96L317.05 68.91L317.4 68.86L317.75 68.82L318.1 68.78L318.45 68.74L318.8 68.72L319.15 68.71L319.5 68.72L319.85 68.77L320.2 68.86L320.55 68.96L320.9 69.06L321.25 69.14L321.6 69.19L321.95 69.2L322.3 69.16L322.65 69.09L323 69.01L323.35 68.94L323.7 68.9L324.05 68.9L324.4 68.95L324.75 69.04L325.1 69.15L325.45 69.27L325.8 69.4L326.15 69.51L326.5 69.6L326.85 69.65L327.2 69.66L327.55 69.62L327.9 69.52L328.25 69.34L328.6 69.09L328.95 68.75L329.3 68.35L329.65 67.91L330 67.49L330.35 67.14L330.7 66.93L331.05 66.89L331.4 67.02L331.75 67.3L332.1 67.68L332.45 68.09L332.8 68.46L333.15 68.72L333.5 68.87L333.85 68.91L334.2 68.88L334.55 68.82L334.9 68.78L335.25 68.79L335.6 68.85L335.95 68.94L336.3 69.03L336.65 69.11L337 69.16L337.35 69.19L337.7 69.21L338.05 69.24L338.4 69.26L338.75 69.28L339.1 69.27L339.45 69.22L339.8 69.13L340.15 69L340.5 68.86L340.85 68.74L341.2 68.64L341.55 68.6L341.9 68.61L342.25 68.67L342.6 68.76L342.95 68.86L343.3 68.96L343.65 69.05L344 69.1L344.35 69.12L344.7 69.12L345.05 69.11L345.4 69.1L345.75 69.1L346.1 69.13L346.45 69.19L346.8 69.27L347.15 69.37L347.5 69.45L347.85 69.5L348.2 69.5L348.55 69.42L348.9 69.28L349.25 69.12L349.6 68.97L349.95 68.86L350.3 68.82L350.65 68.86L351 68.96L351.35 69.09L351.7 69.22L352.05 69.32L352.4 69.38L352.75 69.37L353.1 69.32L353.45 69.23L353.8 69.12L354.15 69.01L354.5 68.91L354.85 68.85L355.2 68.83L355.55 68.86L355.9 68.93L356.25 69.01L356.6 69.1L356.95 69.15L357.3 69.16L357.65 69.1L358 69.02L358.35 68.93L358.7 68.86L359.05 68.85L359.4 68.91L359.75 69.03L360.1 69.18L360.45 69.35L360.8 69.51L361.15 69.63L361.5 69.69L361.85 69.69L362.2 69.62L362.55 69.53L362.9 69.43L363.25 69.35L363.6 69.33L363.95 69.36L364.3 69.45L364.65 69.57L365 69.7L365.35 69.82L365.7 69.9L366.05 69.91L366.4 69.83L366.75 69.67L367.1 69.41L367.45 69.01L367.8 68.4L368.15 67.52L368.5 66.25L368.85 64.51L369.2 62.31L369.55 59.78L369.9 57.22L370.25 55.02L370.6 53.58L370.95 53.18L371.3 53.91L371.65 55.63L372 57.99L372.35 60.57L372.7 62.99L373.05 64.98L373.4 66.43L373.75 67.28L374.1 67.58L374.45 67.31L374.8 66.4L375.15 64.73L375.5 62.1L375.85 58.32L376.2 53.31L376.55 47.14L376.9 40.1L377.25 32.77L377.6 25.88L377.95 20.29L378.3 16.76L378.65 15.8L379 17.57L379.35 21.78L379.7 27.84L380.05 34.94L380.4 42.24L380.75 49.04L381.1 54.86L381.45 59.49L381.8 62.93L382.15 65.3L382.5 66.8L382.85 67.59L383.2 67.79L383.55 67.45L383.9 66.58L384.25 65.21L384.6 63.39L384.95 61.28L385.3 59.14L385.65 57.32L386 56.15L386.35 55.86L386.7 56.51L387.05 57.96L387.4 59.94L387.75 62.1L388.1 64.13L388.45 65.82L388.8 67.09L389.15 67.95L389.5 68.48L389.85 68.78L390.2 68.93L390.55 69L390.9 69.03L391.25 69.06L391.6 69.08L391.95 69.12L392.3 69.18L392.65 69.24L393 69.29L393.35 69.32L393.7 69.31L394.05 69.27L394.4 69.23L394.75 69.19L395.1 69.18L395.45 69.18L395.8 69.18L396.15 69.18L396.5 69.17L396.85 69.13L397.2 69.07L397.55 69.01L397.9 68.95L398.25 68.91L398.6 68.89L398.95 68.92L399.3 68.99L399.65 69.08L400 69.18L400.35 69.26L400.7 69.32L401.05 69.34L401.4 69.31L401.75 69.23L402.1 69.13L402.45 69.02L402.8 68.9L403.15 68.81L403.5 68.75L403.85 68.71L404.2 68.7L404.55 68.7L404.9 68.7L405.25 68.71L405.6 68.73L405.95 68.74L406.3 68.76L406.65 68.78L407 68.81L407.35 68.84L407.7 68.91L408.05 69L408.4 69.13L408.75 69.27L409.1 69.4L409.45 69.5L409.8 69.56L410.15 69.55L410.5 69.48L410.85 69.39L411.2 69.28L411.55 69.17L411.9 69.09L412.25 69.04L412.6 69.01L412.95 68.98L413.3 68.94L413.65 68.91L414 68.87L414.35 68.84L414.7 68.82L415.05 68.81L415.4 68.81L415.75 68.82L416.1 68.84L416.45 68.87L416.8 68.92L417.15 69L417.5 69.09L417.85 69.19L418.2 69.28L418.55 69.34L418.9 69.34L419.25 69.29L419.6 69.21L419.95 69.1L420.3 69L420.65 68.91L421 68.84L421.35 68.8L421.7 68.78L422.05 68.77L422.4 68.78L422.75 68.82L423.1 68.89L423.45 68.99L423.8 69.12L424.15 69.25L424.5 69.36L424.85 69.43L425.2 69.43L425.55 69.36L425.9 69.24L426.25 69.09L426.6 68.95L426.95 68.83L427.3 68.74L427.65 68.72L428 68.74L428.35 68.81L428.7 68.9L429.05 69L429.4 69.09L429.75 69.14L430.1 69.17L430.45 69.18L430.8 69.18L431.15 69.19L431.5 69.19L431.85 69.19L432.2 69.19L432.55 69.18L432.9 69.16L433.25 69.13L433.6 69.11L433.95 69.08L434.3 69.06L434.65 69.05L435 69.06L435.35 69.08L435.7 69.12L436.05 69.18L436.4 69.27L436.75 69.36L437.1 69.46L437.45 69.54L437.8 69.6L438.15 69.63L438.5 69.62L438.85 69.58L439.2 69.5L439.55 69.39L439.9 69.27L440.25 69.14L440.6 69.02L440.95 68.94L441.3 68.89L441.65 68.87L442 68.89L442.35 68.91L442.7 68.91L443.05 68.88L443.4 68.82L443.75 68.74L444.1 68.68L444.45 68.64L444.8 68.64L445.15 68.69L445.5 68.78L445.85 68.87L446.2 68.97L446.55 69.05L446.9 69.12L447.25 69.16L447.6 69.19L447.95 69.19L448.3 69.19L448.65 69.18L449 69.16L449.35 69.15L449.7 69.15L450.05 69.16L450.4 69.19L450.75 69.22L451.1 69.26L451.45 69.28L451.8 69.29L452.15 69.27L452.5 69.23L452.85 69.19L453.2 69.14L453.55 69.09L453.9 69.05L454.25 69.02L454.6 69.01L454.95 69L455.3 69.01L455.65 69.02L456 69.02L456.35 69.02L456.7 69.02L457.05 69.01L457.4 69L457.75 68.99L458.1 68.98L458.45 68.98L458.8 68.98L459.15 68.98L459.5 68.98L459.85 68.97L460.2 68.98L460.55 69L460.9 69.05L461.25 69.13L461.6 69.22L461.95 69.3L462.3 69.35L462.65 69.36L463 69.31L463.35 69.23L463.7 69.13L464.05 69.02L464.4 68.92L464.75 68.81L465.1 68.7L465.45 68.58L465.8 68.47L466.15 68.38L466.5 68.32L466.85 68.33L467.2 68.39L467.55 68.53L467.9 68.72L468.25 68.94L468.6 69.18L468.95 69.4L469.3 69.58L469.65 69.69L470 69.73L470.35 69.71L470.7 69.63L471.05 69.52L471.4 69.37L471.75 69.21L472.1 69.05L472.45 68.9L472.8 68.77L473.15 68.69L473.5 68.68L473.85 68.74L474.2 68.87L474.55 69.04L474.9 69.23L475.25 69.42L475.6 69.58L475.95 69.67L476.3 69.71L476.65 69.69L477 69.63L477.35 69.54L477.7 69.43L478.05 69.32L478.4 69.2L478.75 69.09L479.1 68.98L479.45 68.89L479.8 68.83L480.15 68.81L480.5 68.86L480.85 68.97L481.2 69.11L481.55 69.25L481.9 69.38L482.25 69.46L482.6 69.5L482.95 69.49L483.3 69.44" fill="none" stroke="#8f1539" stroke-width="1.3" stroke-linejoin="round" stroke-linecap="round"/>
<path d="M240.4 68.82L240.75 68.86L241.1 68.9L241.45 68.95L241.8 69L242.15 69.04L242.5 69.08L242.85 69.11L243.2 69.14L243.55 69.17L243.9 69.21L244.25 69.24L244.6 69.28L244.95 69.32L245.3 69.36L245.65 69.4L246 69.44L246.35 69.47L246.7 69.49L247.05 69.5L247.4 69.49L247.75 69.47L248.1 69.44L248.45 69.4L248.8 69.35L249.15 69.31L249.5 69.26L249.85 69.2L250.2 69.15L250.55 69.09L250.9 69.05L251.25 69.01L251.6 68.97L251.95 68.95L252.3 68.93L252.65 68.92L253 68.93L253.35 68.95L253.7 68.99L254.05 69.05L254.4 69.12L254.75 69.19L255.1 69.27L255.45 69.36L255.8 69.44L256.15 69.52L256.5 69.58L256.85 69.63L257.2 69.66L257.55 69.67L257.9 69.66L258.25 69.63L258.6 69.58L258.95 69.53L259.3 69.47L259.65 69.4L260 69.34L260.35 69.27L260.7 69.2L261.05 69.12L261.4 69.04L261.75 68.95L262.1 68.86L262.45 68.78L262.8 68.72L263.15 68.69L263.5 68.7L263.85 68.74L264.2 68.8L264.55 68.87L264.9 68.97L265.25 69.08L265.6 69.21L265.95 69.34L266.3 69.47L266.65 69.57L267 69.63L267.35 69.63L267.7 69.59L268.05 69.5L268.4 69.39L268.75 69.26L269.1 69.14L269.45 69.02L269.8 68.91L270.15 68.82L270.5 68.73L270.85 68.67L271.2 68.64L271.55 68.67L271.9 68.74L272.25 68.85L272.6 68.98L272.95 69.09L273.3 69.18L273.65 69.2L274 69.17L274.35 69.11L274.7 69.03L275.05 68.95L275.4 68.89L275.75 68.85L276.1 68.84L276.45 68.84L276.8 68.84L277.15 68.85L277.5 68.87L277.85 68.89L278.2 68.93L278.55 68.97L278.9 69.01L279.25 69.04L279.6 69.06L279.95 69.05L280.3 69.03L280.65 69L281 68.98L281.35 68.97L281.7 68.97L282.05 68.99L282.4 69.02L282.75 69.06L283.1 69.1L283.45 69.16L283.8 69.21L284.15 69.26L284.5 69.31L284.85 69.33L285.2 69.33L285.55 69.31L285.9 69.26L286.25 69.2L286.6 69.14L286.95 69.08L287.3 69.03L287.65 69L288 68.98L288.35 68.98L288.7 69L289.05 69.05L289.4 69.1L289.75 69.16L290.1 69.21L290.45 69.25L290.8 69.28L291.15 69.33L291.5 69.38L291.85 69.43L292.2 69.48L292.55 69.51L292.9 69.5L293.25 69.45L293.6 69.36L293.95 69.23L294.3 69.08L294.65 68.93L295 68.79L295.35 68.71L295.7 68.69L296.05 68.73L296.4 68.81L296.75 68.92L297.1 69.02L297.45 69.1L297.8 69.13L298.15 69.12L298.5 69.08L298.85 69.02L299.2 68.97L299.55 68.93L299.9 68.92L300.25 68.94L300.6 68.98L300.95 69.02L301.3 69.06L301.65 69.08L302 69.09L302.35 69.06L302.7 69.02L303.05 68.96L303.4 68.92L303.75 68.88L304.1 68.87L304.45 68.9L304.8 68.94L305.15 68.98L305.5 69.02L305.85 69.06L306.2 69.1L306.55 69.15L306.9 69.19L307.25 69.23L307.6 69.26L307.95 69.26L308.3 69.24L308.65 69.19L309 69.13L309.35 69.03L309.7 68.9L310.05 68.72L310.4 68.49L310.75 68.21L311.1 67.92L311.45 67.64L311.8 67.4L312.15 67.25L312.5 67.21L312.85 67.29L313.2 67.47L313.55 67.72L313.9 68.01L314.25 68.29L314.6 68.53L314.95 68.71L315.3 68.84L315.65 68.92L316 68.96L316.35 68.97L316.7 68.96L317.05 68.93L317.4 68.89L317.75 68.85L318.1 68.81L318.45 68.77L318.8 68.75L319.15 68.74L319.5 68.77L319.85 68.84L320.2 68.94L320.55 69.05L320.9 69.16L321.25 69.25L321.6 69.3L321.95 69.28L322.3 69.22L322.65 69.12L323 69.02L323.35 68.93L323.7 68.88L324.05 68.89L324.4 68.95L324.75 69.07L325.1 69.21L325.45 69.36L325.8 69.49L326.15 69.59L326.5 69.65L326.85 69.65L327.2 69.62L327.55 69.56L327.9 69.45L328.25 69.29L328.6 69.04L328.95 68.71L329.3 68.32L329.65 67.88L330 67.46L330.35 67.11L330.7 66.9L331.05 66.88L331.4 67.01L331.75 67.29L332.1 67.64L332.45 68.02L332.8 68.35L333.15 68.59L333.5 68.74L333.85 68.82L334.2 68.84L334.55 68.83L334.9 68.81L335.25 68.81L335.6 68.85L335.95 68.9L336.3 68.98L336.65 69.08L337 69.17L337.35 69.26L337.7 69.33L338.05 69.38L338.4 69.4L338.75 69.39L339.1 69.35L339.45 69.25L339.8 69.12L340.15 68.96L340.5 68.8L340.85 68.66L341.2 68.56L341.55 68.53L341.9 68.56L342.25 68.64L342.6 68.77L342.95 68.91L343.3 69.04L343.65 69.14L344 69.18L344.35 69.16L344.7 69.11L345.05 69.05L345.4 69.01L345.75 69.01L346.1 69.06L346.45 69.15L346.8 69.26L347.15 69.37L347.5 69.45L347.85 69.49L348.2 69.48L348.55 69.41L348.9 69.31L349.25 69.19L349.6 69.07L349.95 68.97L350.3 68.92L350.65 68.93L351 69L351.35 69.1L351.7 69.22L352.05 69.33L352.4 69.4L352.75 69.41L353.1 69.35L353.45 69.26L353.8 69.14L354.15 69.01L354.5 68.91L354.85 68.84L355.2 68.83L355.55 68.86L355.9 68.93L356.25 69.02L356.6 69.11L356.95 69.16L357.3 69.17L357.65 69.12L358 69.05L358.35 68.97L358.7 68.91L359.05 68.9L359.4 68.95L359.75 69.06L360.1 69.2L360.45 69.36L360.8 69.5L361.15 69.6L361.5 69.66L361.85 69.64L362.2 69.59L362.55 69.51L362.9 69.43L363.25 69.37L363.6 69.36L363.95 69.42L364.3 69.52L364.65 69.63L365 69.75L365.35 69.84L365.7 69.88L366.05 69.87L366.4 69.8L366.75 69.69L367.1 69.55L367.45 69.35L367.8 69.06L368.15 68.62L368.5 67.97L368.85 67.01L369.2 65.68L369.55 63.99L369.9 62.03L370.25 60.02L370.6 58.25L370.95 57.02L371.3 56.59L371.65 57.03L372 58.26L372.35 60.03L372.7 62.03L373.05 63.95L373.4 65.57L373.75 66.77L374.1 67.54L374.45 67.89L374.8 67.84L375.15 67.37L375.5 66.39L375.85 64.81L376.2 62.5L376.55 59.41L376.9 55.56L377.25 51.12L377.6 46.4L377.95 41.88L378.3 38.1L378.65 35.56L379 34.64L379.35 35.48L379.7 37.96L380.05 41.73L380.4 46.26L380.75 51.01L381.1 55.5L381.45 59.39L381.8 62.52L382.15 64.86L382.5 66.47L382.85 67.49L383.2 68.01L383.55 68.09L383.9 67.74L384.25 66.94L384.6 65.67L384.95 63.98L385.3 61.99L385.65 59.96L386 58.19L386.35 56.99L386.7 56.59L387.05 57.07L387.4 58.33L387.75 60.14L388.1 62.15L388.45 64.09L388.8 65.72L389.15 66.97L389.5 67.82L389.85 68.36L390.2 68.67L390.55 68.84L390.9 68.95L391.25 69.02L391.6 69.08L391.95 69.14L392.3 69.21L392.65 69.27L393 69.31L393.35 69.34L393.7 69.33L394.05 69.31L394.4 69.28L394.75 69.26L395.1 69.25L395.45 69.25L395.8 69.25L396.15 69.24L396.5 69.22L396.85 69.17L397.2 69.11L397.55 69.04L397.9 68.98L398.25 68.95L398.6 68.95L398.95 68.99L399.3 69.08L399.65 69.18L400 69.29L400.35 69.39L400.7 69.45L401.05 69.46L401.4 69.4L401.75 69.3L402.1 69.18L402.45 69.04L402.8 68.92L403.15 68.83L403.5 68.79L403.85 68.78L404.2 68.8L404.55 68.83L404.9 68.86L405.25 68.87L405.6 68.85L405.95 68.81L406.3 68.76L406.65 68.72L407 68.71L407.35 68.73L407.7 68.8L408.05 68.92L408.4 69.06L408.75 69.21L409.1 69.34L409.45 69.44L409.8 69.5L410.15 69.49L410.5 69.43L410.85 69.34L411.2 69.24L411.55 69.15L411.9 69.08L412.25 69.04L412.6 69.01L412.95 68.98L413.3 68.95L413.65 68.92L414 68.88L414.35 68.85L414.7 68.84L415.05 68.83L415.4 68.84L415.75 68.85L416.1 68.88L416.45 68.91L416.8 68.97L417.15 69.05L417.5 69.13L417.85 69.22L418.2 69.29L418.55 69.33L418.9 69.32L419.25 69.27L419.6 69.19L419.95 69.09L420.3 68.99L420.65 68.89L421 68.82L421.35 68.77L421.7 68.73L422.05 68.71L422.4 68.7L422.75 68.71L423.1 68.76L423.45 68.85L423.8 68.96L424.15 69.09L424.5 69.21L424.85 69.3L425.2 69.35L425.55 69.35L425.9 69.29L426.25 69.18L426.6 69.05L426.95 68.9L427.3 68.78L427.65 68.72L428 68.72L428.35 68.8L428.7 68.9L429.05 69.02L429.4 69.11L429.75 69.15L430.1 69.16L430.45 69.14L430.8 69.13L431.15 69.13L431.5 69.16L431.85 69.19L432.2 69.2L432.55 69.2L432.9 69.16L433.25 69.11L433.6 69.06L433.95 69.03L434.3 69.02L434.65 69.03L435 69.07L435.35 69.11L435.7 69.15L436.05 69.2L436.4 69.27L436.75 69.33L437.1 69.4L437.45 69.46L437.8 69.5L438.15 69.52L438.5 69.52L438.85 69.5L439.2 69.45L439.55 69.39L439.9 69.31L440.25 69.22L440.6 69.13L440.95 69.06L441.3 69.01L441.65 68.96L442 68.92L442.35 68.88L442.7 68.84L443.05 68.79L443.4 68.73L443.75 68.68L444.1 68.64L444.45 68.62L444.8 68.63L445.15 68.67L445.5 68.73L445.85 68.81L446.2 68.9L446.55 68.97L446.9 69.04L447.25 69.09L447.6 69.13L447.95 69.15L448.3 69.17L448.65 69.17L449 69.16L449.35 69.14L449.7 69.13L450.05 69.13L450.4 69.15L450.75 69.19L451.1 69.23L451.45 69.26L451.8 69.27L452.15 69.25L452.5 69.2L452.85 69.15L453.2 69.09L453.55 69.04L453.9 69.02L454.25 69.01L454.6 69.01L454.95 69.01L455.3 69L455.65 68.99L456 68.99L456.35 68.99L456.7 69L457.05 69.02L457.4 69.05L457.75 69.06L458.1 69.05L458.45 69.03L458.8 69L459.15 68.98L459.5 68.98L459.85 69L460.2 69.04L460.55 69.09L460.9 69.15L461.25 69.19L461.6 69.22L461.95 69.24L462.3 69.24L462.65 69.23L463 69.21L463.35 69.17L463.7 69.12L464.05 69.05L464.4 68.96L464.75 68.86L465.1 68.72L465.45 68.57L465.8 68.41L466.15 68.27L466.5 68.18L466.85 68.18L467.2 68.27L467.55 68.45L467.9 68.69L468.25 68.96L468.6 69.22L468.95 69.43L469.3 69.57L469.65 69.65L470 69.67L470.35 69.64L470.7 69.57L471.05 69.46L471.4 69.33L471.75 69.16L472.1 69L472.45 68.84L472.8 68.71L473.15 68.64L473.5 68.64L473.85 68.72L474.2 68.88L474.55 69.09L474.9 69.33L475.25 69.55L475.6 69.73L475.95 69.83L476.3 69.84L476.65 69.77L477 69.66L477.35 69.51L477.7 69.36L478.05 69.22L478.4 69.1L478.75 69.01L479.1 68.93L479.45 68.89L479.8 68.88L480.15 68.91L480.5 68.99L480.85 69.1L481.2 69.22L481.55 69.34L481.9 69.44L482.25 69.5L482.6 69.5L482.95 69.47L483.3 69.4" fill="none" stroke="url(#gC)" stroke-width="1.5" stroke-linejoin="round" stroke-linecap="round"/>
<line x1="462.5" y1="13.4" x2="485" y2="13.4" stroke="#8e3530" stroke-width="1.35"/>
<line x1="462.5" y1="25.4" x2="485" y2="25.4" stroke="#78a058" stroke-width="1.4"/>
<text x="488.3" y="15.6" font-size="7.3" fill="#2e2e2e">-µPlm</text>
<text x="489" y="28.1" font-size="7.3" fill="#2e2e2e">+µPlm</text>
<line x1="241.3" y1="80.8" x2="483.4" y2="80.8" stroke="#111" stroke-width="1.5"/>
<line x1="251.3" y1="80.8" x2="251.3" y2="83.8" stroke="#111" stroke-width="1.1"/>
<text x="251.3" y="93.1" font-size="8.15" text-anchor="middle" textLength="11.54" lengthAdjust="spacingAndGlyphs" fill="#2e2e2e">3.0</text>
<line x1="306.6" y1="80.8" x2="306.6" y2="83.8" stroke="#111" stroke-width="1.1"/>
<text x="306.6" y="93.1" font-size="8.15" text-anchor="middle" textLength="11.54" lengthAdjust="spacingAndGlyphs" fill="#2e2e2e">2.9</text>
<line x1="361.9" y1="80.8" x2="361.9" y2="83.8" stroke="#111" stroke-width="1.1"/>
<text x="361.9" y="93.1" font-size="8.15" text-anchor="middle" textLength="11.54" lengthAdjust="spacingAndGlyphs" fill="#2e2e2e">2.8</text>
<line x1="417.2" y1="80.8" x2="417.2" y2="83.8" stroke="#111" stroke-width="1.1"/>
<text x="417.2" y="93.1" font-size="8.15" text-anchor="middle" textLength="11.54" lengthAdjust="spacingAndGlyphs" fill="#2e2e2e">2.7</text>
<line x1="472.5" y1="80.8" x2="472.5" y2="83.8" stroke="#111" stroke-width="1.1"/>
<text x="472.5" y="93.1" font-size="8.15" text-anchor="middle" textLength="11.54" lengthAdjust="spacingAndGlyphs" fill="#2e2e2e">2.6</text>
<path d="M348.35 102.7L349.25 101.7L349.25 105.6" fill="none" stroke="#333" stroke-width="0.85"/>
<text x="350.5" y="110.2" font-size="8.4" textLength="5.1" lengthAdjust="spacingAndGlyphs" fill="#2e2e2e" stroke="#2e2e2e" stroke-width="0.32">H</text>
<text x="357.7" y="110.2" font-size="8.4" textLength="18.2" lengthAdjust="spacingAndGlyphs" fill="#2e2e2e" stroke="#2e2e2e" stroke-width="0.32">(ppm)</text>
<text x="228.8" y="139.9" font-size="12.0" font-weight="bold" fill="#000">D</text>
<path d="M240.3 203.03L240.55 202.96L240.8 202.89L241.05 202.83L241.3 202.78L241.55 202.75L241.8 202.75L242.05 202.78L242.3 202.84L242.55 202.93L242.8 203.03L243.05 203.14L243.3 203.23L243.55 203.31L243.8 203.36L244.05 203.38L244.3 203.36L244.55 203.31L244.8 203.23L245.05 203.13L245.3 203.01L245.55 202.9L245.8 202.8L246.05 202.73L246.3 202.7L246.55 202.72L246.8 202.77L247.05 202.86L247.3 202.96L247.55 203.06L247.8 203.15L248.05 203.22L248.3 203.26L248.55 203.27L248.8 203.24L249.05 203.2L249.3 203.14L249.55 203.08L249.8 203.02L250.05 202.98L250.3 202.96L250.55 202.96L250.8 202.98L251.05 203.03L251.3 203.08L251.55 203.14L251.8 203.19L252.05 203.22L252.3 203.23L252.55 203.22L252.8 203.18L253.05 203.13L253.3 203.09L253.55 203.06L253.8 203.06L254.05 203.1L254.3 203.16L254.55 203.24L254.8 203.33L255.05 203.4L255.3 203.44L255.55 203.44L255.8 203.42L256.05 203.37L256.3 203.31L256.55 203.26L256.8 203.23L257.05 203.23L257.3 203.25L257.55 203.29L257.8 203.31L258.05 203.33L258.3 203.32L258.55 203.28L258.8 203.21L259.05 203.12L259.3 203.03L259.55 202.94L259.8 202.86L260.05 202.81L260.3 202.77L260.55 202.75L260.8 202.75L261.05 202.74L261.3 202.74L261.55 202.72L261.8 202.71L262.05 202.7L262.3 202.7L262.55 202.72L262.8 202.75L263.05 202.81L263.3 202.87L263.55 202.93L263.8 202.97L264.05 202.98L264.3 202.95L264.55 202.86L264.8 202.73L265.05 202.59L265.3 202.43L265.55 202.29L265.8 202.19L266.05 202.13L266.3 202.12L266.55 202.15L266.8 202.19L267.05 202.23L267.3 202.24L267.55 202.2L267.8 202.12L268.05 201.98L268.3 201.77L268.55 201.41L268.8 200.59L269.05 198.45L269.3 193.26L269.55 183.51L269.8 170.6L270.05 160.82L270.3 161.73L270.55 171.78L270.8 181.78L271.05 184.56L271.3 178.38L271.55 167.29L271.8 160.03L272.05 164.03L272.3 176.18L272.55 188.38L272.8 196.3L273.05 200.04L273.3 201.43L273.55 201.89L273.8 202.04L274.05 202.08L274.3 202.08L274.55 202.07L274.8 202.07L275.05 202.1L275.3 202.15L275.55 202.21L275.8 202.29L276.05 202.38L276.3 202.48L276.55 202.57L276.8 202.66L277.05 202.74L277.3 202.8L277.55 202.85L277.8 202.88L278.05 202.88L278.3 202.86L278.55 202.83L278.8 202.81L279.05 202.78L279.3 202.76L279.55 202.72L279.8 202.56L280.05 201.97L280.3 200.38L280.55 197.5L280.8 194.31L281.05 193.22L281.3 195.29L281.55 198.46L281.8 200.77L282.05 201.85L282.3 202.24L282.55 202.41L282.8 202.55L283.05 202.69L283.3 202.84L283.55 202.99L283.8 203.1L284.05 203.19L284.3 203.23L284.55 203.23L284.8 203.21L285.05 203.16L285.3 203.11L285.55 203.05L285.8 203L286.05 202.95L286.3 202.92L286.55 202.91L286.8 202.92L287.05 202.95L287.3 202.98L287.55 203.02L287.8 203.06L288.05 203.09L288.3 203.1L288.55 203.09L288.8 203.07L289.05 203.04L289.3 203.02L289.55 203L289.8 203.01L290.05 203.05L290.3 203.11L290.55 203.19L290.8 203.27L291.05 203.35L291.3 203.41L291.55 203.44L291.8 203.44L292.05 203.41L292.3 203.35L292.55 203.28L292.8 203.19L293.05 203.11L293.3 203.03L293.55 202.97L293.8 202.93L294.05 202.92L294.3 202.94L294.55 203L294.8 203.08L295.05 203.18L295.3 203.29L295.55 203.4L295.8 203.49L296.05 203.57L296.3 203.61L296.55 203.62L296.8 203.59L297.05 203.53L297.3 203.45L297.55 203.35L297.8 203.26L298.05 203.16L298.3 203.07L298.55 203L298.8 202.95L299.05 202.91L299.3 202.89L299.55 202.89L299.8 202.9L300.05 202.91L300.3 202.92L300.55 202.94L300.8 202.96L301.05 202.99L301.3 203.01L301.55 203.05L301.8 203.1L302.05 203.15L302.3 203.22L302.55 203.28L302.8 203.35L303.05 203.41L303.3 203.46L303.55 203.49L303.8 203.51L304.05 203.51L304.3 203.49L304.55 203.45L304.8 203.4L305.05 203.35L305.3 203.3L305.55 203.25L305.8 203.21L306.05 203.17L306.3 203.15L306.55 203.15L306.8 203.16L307.05 203.19L307.3 203.24L307.55 203.31L307.8 203.41L308.05 203.53L308.3 203.66L308.55 203.78L308.8 203.88L309.05 203.94L309.3 203.96L309.55 203.93L309.8 203.86L310.05 203.76L310.3 203.63L310.55 203.51L310.8 203.39L311.05 203.29L311.3 203.2L311.55 203.14L311.8 203.08L312.05 203.03L312.3 202.98L312.55 202.93L312.8 202.88L313.05 202.84L313.3 202.81L313.55 202.78L313.8 202.77L314.05 202.77L314.3 202.78L314.55 202.8L314.8 202.84L315.05 202.88L315.3 202.92L315.55 202.97L315.8 203.02L316.05 203.07L316.3 203.13L316.55 203.21L316.8 203.29L317.05 203.38L317.3 203.47L317.55 203.55L317.8 203.62L318.05 203.69L318.3 203.73L318.55 203.75L318.8 203.74L319.05 203.72L319.3 203.69L319.55 203.65L319.8 203.6L320.05 203.55L320.3 203.5L320.55 203.47L320.8 203.45L321.05 203.44L321.3 203.44L321.55 203.46L321.8 203.48L322.05 203.5L322.3 203.5L322.55 203.49L322.8 203.46L323.05 203.41L323.3 203.34L323.55 203.26L323.8 203.19L324.05 203.13L324.3 203.1L324.55 203.1L324.8 203.13L325.05 203.17L325.3 203.22L325.55 203.27L325.8 203.31L326.05 203.33L326.3 203.34L326.55 203.32L326.8 203.3L327.05 203.28L327.3 203.26L327.55 203.25L327.8 203.25L328.05 203.26L328.3 203.28L328.55 203.32L328.8 203.36L329.05 203.41L329.3 203.45L329.55 203.49L329.8 203.52L330.05 203.54L330.3 203.54L330.55 203.52L330.8 203.48L331.05 203.44L331.3 203.41L331.55 203.39L331.8 203.39L332.05 203.43L332.3 203.48L332.55 203.52L332.8 203.56L333.05 203.58L333.3 203.56L333.55 203.51L333.8 203.42L334.05 203.33L334.3 203.24L334.55 203.17L334.8 203.13L335.05 203.11L335.3 203.12L335.55 203.15L335.8 203.18L336.05 203.2L336.3 203.2L336.55 203.18L336.8 203.15L337.05 203.1L337.3 203.05L337.55 203.01L337.8 202.97L338.05 202.95L338.3 202.96L338.55 202.98L338.8 203.03L339.05 203.08L339.3 203.14L339.55 203.19L339.8 203.24L340.05 203.28L340.3 203.3L340.55 203.31L340.8 203.3L341.05 203.29L341.3 203.27L341.55 203.24L341.8 203.21L342.05 203.16L342.3 203.12L342.55 203.06L342.8 203.01L343.05 202.96L343.3 202.93L343.55 202.92L343.8 202.93L344.05 202.98L344.3 203.06L344.55 203.17L344.8 203.29L345.05 203.41L345.3 203.51L345.55 203.59L345.8 203.64L346.05 203.65L346.3 203.64L346.55 203.6L346.8 203.54L347.05 203.48L347.3 203.42L347.55 203.36L347.8 203.31L348.05 203.26L348.3 203.21L348.55 203.18L348.8 203.15L349.05 203.14L349.3 203.14L349.55 203.16L349.8 203.2L350.05 203.27L350.3 203.34L350.55 203.44L350.8 203.54L351.05 203.64L351.3 203.73L351.55 203.81L351.8 203.88L352.05 203.92L352.3 203.94L352.55 203.92L352.8 203.87L353.05 203.79L353.3 203.69L353.55 203.58L353.8 203.46L354.05 203.36L354.3 203.27L354.55 203.21L354.8 203.18L355.05 203.15L355.3 203.14L355.55 203.13L355.8 203.11L356.05 203.09L356.3 203.05L356.55 203L356.8 202.93L357.05 202.85L357.3 202.75L357.55 202.64L357.8 202.5L358.05 202.34L358.3 202.15L358.55 201.92L358.8 201.67L359.05 201.41L359.3 201.14L359.55 200.89L359.8 200.68L360.05 200.53L360.3 200.45L360.55 200.45L360.8 200.53L361.05 200.67L361.3 200.86L361.55 201.08L361.8 201.3L362.05 201.53L362.3 201.73L362.55 201.9L362.8 202.04L363.05 202.16L363.3 202.25L363.55 202.34L363.8 202.41L364.05 202.5L364.3 202.6L364.55 202.74L364.8 202.91L365.05 203.1L365.3 203.31L365.55 203.51L365.8 203.68L366.05 203.8L366.3 203.86L366.55 203.84L366.8 203.76L367.05 203.63L367.3 203.49L367.55 203.34L367.8 203.21L368.05 203.11L368.3 203.06L368.55 203.04L368.8 203.06L369.05 203.09L369.3 203.13L369.55 203.17L369.8 203.21L370.05 203.24L370.3 203.26L370.55 203.27L370.8 203.27L371.05 203.26L371.3 203.25L371.55 203.24L371.8 203.24L372.05 203.23L372.3 203.23L372.55 203.24L372.8 203.25L373.05 203.28L373.3 203.3L373.55 203.34L373.8 203.38L374.05 203.42L374.3 203.46L374.55 203.49L374.8 203.52L375.05 203.53L375.3 203.54L375.55 203.53L375.8 203.53L376.05 203.52L376.3 203.53L376.55 203.55L376.8 203.57L377.05 203.61L377.3 203.64L377.55 203.67L377.8 203.7L378.05 203.71L378.3 203.7L378.55 203.68L378.8 203.64L379.05 203.59L379.3 203.53L379.55 203.46L379.8 203.39L380.05 203.33L380.3 203.28L380.55 203.23L380.8 203.2L381.05 203.17L381.3 203.16L381.55 203.14L381.8 203.14L382.05 203.15L382.3 203.19L382.55 203.25L382.8 203.35L383.05 203.47L383.3 203.58L383.55 203.58L383.8 203.34L384.05 202.68L384.3 201.63L384.55 200.55L384.8 200L385.05 200.27L385.3 201.13L385.55 202.05L385.8 202.68L386.05 203L386.3 203.16L386.55 203.26L386.8 203.35L387.05 203.44L387.3 203.51L387.55 203.54L387.8 203.54L388.05 203.53L388.3 203.51L388.55 203.49L388.8 203.47L389.05 203.46L389.3 203.4L389.55 203.19L389.8 202.76L390.05 202.16L390.3 201.62L390.55 201.46L390.8 201.76L391.05 202.3L391.3 202.73L391.55 202.82L391.8 202.57L392.05 202.15L392.3 201.87L392.55 201.91L392.8 202.28L393.05 202.74L393.3 203.09L393.55 203.25L393.8 203.27L394.05 203.2L394.3 203.11L394.55 203.02L394.8 202.94L395.05 202.89L395.3 202.87L395.55 202.88L395.8 202.91L396.05 202.97L396.3 203.05L396.55 203.14L396.8 203.25L397.05 203.36L397.3 203.48L397.55 203.59L397.8 203.69L398.05 203.78L398.3 203.84L398.55 203.85L398.8 203.82L399.05 203.77L399.3 203.68L399.55 203.58L399.8 203.47L400.05 203.38L400.3 203.32L400.55 203.29L400.8 203.3L401.05 203.34L401.3 203.4L401.55 203.47L401.8 203.53L402.05 203.57L402.3 203.58L402.55 203.55L402.8 203.49L403.05 203.41L403.3 203.32L403.55 203.25L403.8 203.2L404.05 203.19L404.3 203.21L404.55 203.28L404.8 203.38L405.05 203.49L405.3 203.61L405.55 203.71L405.8 203.79L406.05 203.84L406.3 203.86L406.55 203.82L406.8 203.75L407.05 203.64L407.3 203.52L407.55 203.39L407.8 203.27L408.05 203.19L408.3 203.15L408.55 203.16L408.8 203.22L409.05 203.29L409.3 203.36L409.55 203.41L409.8 203.41L410.05 203.34L410.3 203.23L410.55 203.08L410.8 202.93L411.05 202.8L411.3 202.72L411.55 202.71L411.8 202.75L412.05 202.83L412.3 202.92L412.55 203L412.8 203.06L413.05 203.06L413.3 203.01L413.55 202.93L413.8 202.82L414.05 202.71L414.3 202.59L414.55 202.48L414.8 202.37L415.05 202.23L415.3 202.04L415.55 201.72L415.8 201L416.05 199.21L416.3 195.07L416.55 187.16L416.8 175.48L417.05 163.45L417.3 157.89L417.55 163.22L417.8 174.96L418.05 186.16L418.3 193.03L418.55 194.68L418.8 191.13L419.05 182.63L419.3 171L419.55 161.28L419.8 160.25L420.05 168.89L420.3 180.93L420.55 190.9L420.8 197L421.05 199.99L421.3 201.29L421.55 201.9L421.8 202.23L422.05 202.43L422.3 202.56L422.55 202.64L422.8 202.68L423.05 202.7L423.3 202.72L423.55 202.73L423.8 202.76L424.05 202.78L424.3 202.81L424.55 202.83L424.8 202.86L425.05 202.9L425.3 202.94L425.55 202.98L425.8 203.01L426.05 203.04L426.3 203.05L426.55 203.04L426.8 203.03L427.05 203.01L427.3 203L427.55 203L427.8 203.01L428.05 203.06L428.3 203.12L428.55 203.19L428.8 203.26L429.05 203.33L429.3 203.39L429.55 203.44L429.8 203.47L430.05 203.49L430.3 203.49L430.55 203.47L430.8 203.44L431.05 203.4L431.3 203.31L431.55 203.14L431.8 202.73L432.05 202.06L432.3 201.38L432.55 201.17L432.8 201.59L433.05 202.29L433.3 202.81L433.55 203L433.8 202.88L434.05 202.48L434.3 201.92L434.55 201.56L434.8 201.69L435.05 202.19L435.3 202.68L435.55 202.95L435.8 203.06L436.05 203.1L436.3 203.14L436.55 203.19L436.8 203.27L437.05 203.35L437.3 203.43L437.55 203.51L437.8 203.57L438.05 203.61L438.3 203.62L438.55 203.59L438.8 203.53L439.05 203.45L439.3 203.35L439.55 203.25L439.8 203.16L440.05 203.07L440.3 203.01L440.55 202.98L440.8 202.98L441.05 203.01L441.3 203.05L441.55 203.12L441.8 203.19L442.05 203.26L442.3 203.31L442.55 203.34L442.8 203.35L443.05 203.33L443.3 203.3L443.55 203.25L443.8 203.2L444.05 203.15L444.3 203.12L444.55 203.1L444.8 203.1L445.05 203.12L445.3 203.13L445.55 203.16L445.8 203.17L446.05 203.19L446.3 203.2L446.55 203.2L446.8 203.21L447.05 203.21L447.3 203.22L447.55 203.24L447.8 203.25L448.05 203.27L448.3 203.27L448.55 203.27L448.8 203.25L449.05 203.23L449.3 203.21L449.55 203.2L449.8 203.19L450.05 203.2L450.3 203.22L450.55 203.27L450.8 203.34L451.05 203.41L451.3 203.48L451.55 203.55L451.8 203.6L452.05 203.62L452.3 203.62L452.55 203.59L452.8 203.53L453.05 203.46L453.3 203.38L453.55 203.31L453.8 203.25L454.05 203.2L454.3 203.16L454.55 203.13L454.8 203.1L455.05 203.08L455.3 203.06L455.55 203.04L455.8 203.03L456.05 203.02L456.3 203.01L456.55 203.01L456.8 203.01L457.05 203.01L457.3 203.02L457.55 203.03L457.8 203.03L458.05 203.04L458.3 203.06L458.55 203.07L458.8 203.08L459.05 203.1L459.3 203.13L459.55 203.16L459.8 203.2L460.05 203.25L460.3 203.29L460.55 203.35L460.8 203.4L461.05 203.44L461.3 203.47L461.55 203.49L461.8 203.48L462.05 203.43L462.3 203.36L462.55 203.24L462.8 203.09L463.05 202.93L463.3 202.77L463.55 202.62L463.8 202.5L464.05 202.41L464.3 202.36L464.55 202.32L464.8 202.25L465.05 202.06L465.3 201.44L465.55 199.62L465.8 195.3L466.05 187.59L466.3 178.09L466.55 172.05L466.8 174.7L467.05 183.41L467.3 192.04L467.55 197.51L467.8 199.93L468.05 200.46L468.3 199.57L468.55 196.5L468.8 189.79L469.05 179.3L469.3 168.73L469.55 165.49L469.8 172.76L470.05 184.24L470.3 193.61L470.55 198.93L470.8 201.27L471.05 202.19L471.3 202.59L471.55 202.82L471.8 202.98L472.05 203.1L472.3 203.2L472.55 203.27L472.8 203.33L473.05 203.37L473.3 203.41L473.55 203.43L473.8 203.44L474.05 203.45L474.3 203.43L474.55 203.41L474.8 203.38L475.05 203.34L475.3 203.3L475.55 203.26L475.8 203.23L476.05 203.2L476.3 203.18L476.55 203.17L476.8 203.16L477.05 203.15L477.3 203.14L477.55 203.12L477.8 203.1L478.05 203.08L478.3 203.09L478.55 203.11L478.8 203.15L479.05 203.21L479.3 203.29L479.55 203.36L479.8 203.43L480.05 203.48L480.3 203.5L480.55 203.49L480.8 203.44L481.05 203.38L481.3 203.3L481.55 203.23L481.8 203.16L482.05 203.12L482.3 203.09L482.55 203.09L482.8 203.12L483.05 203.15L483.3 203.19L483.55 203.23L483.8 203.25L484.05 203.27L484.3 203.28L484.55 203.28L484.8 203.27L485.05 203.25L485.3 203.25L485.55 203.24L485.8 203.24L486.05 203.25L486.3 203.27L486.55 203.3L486.8 203.34L487.05 203.38L487.3 203.42L487.55 203.45L487.8 203.47L488.05 203.48L488.3 203.46L488.55 203.43L488.8 203.38L489.05 203.3L489.3 203.2L489.55 203.08L489.8 202.95L490.05 202.8L490.3 202.64L490.55 202.47L490.8 202.29L491.05 202.07L491.3 201.73L491.55 200.97L491.8 198.9L492.05 193.9L492.3 184.48L492.55 171.89L492.8 162.24L493.05 163.46L493.3 174.35L493.55 186.92L493.8 197.46L494.05 204.85L494.3 204.22L494.55 196.83L494.8 187.51L495.05 176.98L495.3 169.09L495.55 170.16L495.8 179.2L496.05 189.36L496.3 196.42L496.55 200L496.8 201.47L497.05 202.06L497.3 202.34L497.55 202.53L497.8 202.67L498.05 202.79L498.3 202.89L498.55 202.98L498.8 203.06L499.05 203.12L499.3 203.17L499.55 203.2L499.8 203.2L500.05 203.19L500.3 203.15L500.55 203.11L500.8 203.07L501.05 203.03L501.3 202.99L501.55 202.97L501.8 202.95L502.05 202.95L502.3 202.95L502.55 202.96L502.8 202.98L503.05 203.01L503.3 203.04L503.55 203.08L503.8 203.12L504.05 203.16L504.3 203.19L504.55 203.21L504.8 203.22L505.05 203.23L505.3 203.24L505.55 203.24L505.8 203.24L506.05 203.25L506.3 203.25L506.55 203.26L506.8 203.27L507.05 203.27L507.3 203.27L507.55 203.26L507.8 203.25L508.05 203.22L508.3 203.18L508.55 203.13L508.8 203.07L509.05 203L509.3 202.94L509.55 202.89L509.8 202.85L510.05 202.85L510.3 202.89L510.55 202.96L510.8 203.07L511.05 203.2L511.3 203.34L511.55 203.48Z" fill="#b0284c" fill-opacity="0.55" stroke="none"/>
<path d="M240.3 203.03L240.55 202.96L240.8 202.89L241.05 202.83L241.3 202.78L241.55 202.75L241.8 202.75L242.05 202.78L242.3 202.84L242.55 202.93L242.8 203.03L243.05 203.14L243.3 203.23L243.55 203.31L243.8 203.36L244.05 203.38L244.3 203.36L244.55 203.31L244.8 203.23L245.05 203.13L245.3 203.01L245.55 202.9L245.8 202.8L246.05 202.73L246.3 202.7L246.55 202.72L246.8 202.77L247.05 202.86L247.3 202.96L247.55 203.06L247.8 203.15L248.05 203.22L248.3 203.26L248.55 203.27L248.8 203.24L249.05 203.2L249.3 203.14L249.55 203.08L249.8 203.02L250.05 202.98L250.3 202.96L250.55 202.96L250.8 202.98L251.05 203.03L251.3 203.08L251.55 203.14L251.8 203.19L252.05 203.22L252.3 203.23L252.55 203.22L252.8 203.18L253.05 203.13L253.3 203.09L253.55 203.06L253.8 203.06L254.05 203.1L254.3 203.16L254.55 203.24L254.8 203.33L255.05 203.4L255.3 203.44L255.55 203.44L255.8 203.42L256.05 203.37L256.3 203.31L256.55 203.26L256.8 203.23L257.05 203.23L257.3 203.25L257.55 203.29L257.8 203.31L258.05 203.33L258.3 203.32L258.55 203.28L258.8 203.21L259.05 203.12L259.3 203.03L259.55 202.94L259.8 202.86L260.05 202.81L260.3 202.77L260.55 202.75L260.8 202.75L261.05 202.74L261.3 202.74L261.55 202.72L261.8 202.71L262.05 202.7L262.3 202.7L262.55 202.72L262.8 202.75L263.05 202.81L263.3 202.87L263.55 202.93L263.8 202.97L264.05 202.98L264.3 202.95L264.55 202.86L264.8 202.73L265.05 202.59L265.3 202.43L265.55 202.29L265.8 202.19L266.05 202.13L266.3 202.12L266.55 202.15L266.8 202.19L267.05 202.23L267.3 202.24L267.55 202.2L267.8 202.12L268.05 201.98L268.3 201.77L268.55 201.41L268.8 200.59L269.05 198.45L269.3 193.26L269.55 183.51L269.8 170.6L270.05 160.82L270.3 161.73L270.55 171.78L270.8 181.78L271.05 184.56L271.3 178.38L271.55 167.29L271.8 160.03L272.05 164.03L272.3 176.18L272.55 188.38L272.8 196.3L273.05 200.04L273.3 201.43L273.55 201.89L273.8 202.04L274.05 202.08L274.3 202.08L274.55 202.07L274.8 202.07L275.05 202.1L275.3 202.15L275.55 202.21L275.8 202.29L276.05 202.38L276.3 202.48L276.55 202.57L276.8 202.66L277.05 202.74L277.3 202.8L277.55 202.85L277.8 202.88L278.05 202.88L278.3 202.86L278.55 202.83L278.8 202.81L279.05 202.78L279.3 202.76L279.55 202.72L279.8 202.56L280.05 201.97L280.3 200.38L280.55 197.5L280.8 194.31L281.05 193.22L281.3 195.29L281.55 198.46L281.8 200.77L282.05 201.85L282.3 202.24L282.55 202.41L282.8 202.55L283.05 202.69L283.3 202.84L283.55 202.99L283.8 203.1L284.05 203.19L284.3 203.23L284.55 203.23L284.8 203.21L285.05 203.16L285.3 203.11L285.55 203.05L285.8 203L286.05 202.95L286.3 202.92L286.55 202.91L286.8 202.92L287.05 202.95L287.3 202.98L287.55 203.02L287.8 203.06L288.05 203.09L288.3 203.1L288.55 203.09L288.8 203.07L289.05 203.04L289.3 203.02L289.55 203L289.8 203.01L290.05 203.05L290.3 203.11L290.55 203.19L290.8 203.27L291.05 203.35L291.3 203.41L291.55 203.44L291.8 203.44L292.05 203.41L292.3 203.35L292.55 203.28L292.8 203.19L293.05 203.11L293.3 203.03L293.55 202.97L293.8 202.93L294.05 202.92L294.3 202.94L294.55 203L294.8 203.08L295.05 203.18L295.3 203.29L295.55 203.4L295.8 203.49L296.05 203.57L296.3 203.61L296.55 203.62L296.8 203.59L297.05 203.53L297.3 203.45L297.55 203.35L297.8 203.26L298.05 203.16L298.3 203.07L298.55 203L298.8 202.95L299.05 202.91L299.3 202.89L299.55 202.89L299.8 202.9L300.05 202.91L300.3 202.92L300.55 202.94L300.8 202.96L301.05 202.99L301.3 203.01L301.55 203.05L301.8 203.1L302.05 203.15L302.3 203.22L302.55 203.28L302.8 203.35L303.05 203.41L303.3 203.46L303.55 203.49L303.8 203.51L304.05 203.51L304.3 203.49L304.55 203.45L304.8 203.4L305.05 203.35L305.3 203.3L305.55 203.25L305.8 203.21L306.05 203.17L306.3 203.15L306.55 203.15L306.8 203.16L307.05 203.19L307.3 203.24L307.55 203.31L307.8 203.41L308.05 203.53L308.3 203.66L308.55 203.78L308.8 203.88L309.05 203.94L309.3 203.96L309.55 203.93L309.8 203.86L310.05 203.76L310.3 203.63L310.55 203.51L310.8 203.39L311.05 203.29L311.3 203.2L311.55 203.14L311.8 203.08L312.05 203.03L312.3 202.98L312.55 202.93L312.8 202.88L313.05 202.84L313.3 202.81L313.55 202.78L313.8 202.77L314.05 202.77L314.3 202.78L314.55 202.8L314.8 202.84L315.05 202.88L315.3 202.92L315.55 202.97L315.8 203.02L316.05 203.07L316.3 203.13L316.55 203.21L316.8 203.29L317.05 203.38L317.3 203.47L317.55 203.55L317.8 203.62L318.05 203.69L318.3 203.73L318.55 203.75L318.8 203.74L319.05 203.72L319.3 203.69L319.55 203.65L319.8 203.6L320.05 203.55L320.3 203.5L320.55 203.47L320.8 203.45L321.05 203.44L321.3 203.44L321.55 203.46L321.8 203.48L322.05 203.5L322.3 203.5L322.55 203.49L322.8 203.46L323.05 203.41L323.3 203.34L323.55 203.26L323.8 203.19L324.05 203.13L324.3 203.1L324.55 203.1L324.8 203.13L325.05 203.17L325.3 203.22L325.55 203.27L325.8 203.31L326.05 203.33L326.3 203.34L326.55 203.32L326.8 203.3L327.05 203.28L327.3 203.26L327.55 203.25L327.8 203.25L328.05 203.26L328.3 203.28L328.55 203.32L328.8 203.36L329.05 203.41L329.3 203.45L329.55 203.49L329.8 203.52L330.05 203.54L330.3 203.54L330.55 203.52L330.8 203.48L331.05 203.44L331.3 203.41L331.55 203.39L331.8 203.39L332.05 203.43L332.3 203.48L332.55 203.52L332.8 203.56L333.05 203.58L333.3 203.56L333.55 203.51L333.8 203.42L334.05 203.33L334.3 203.24L334.55 203.17L334.8 203.13L335.05 203.11L335.3 203.12L335.55 203.15L335.8 203.18L336.05 203.2L336.3 203.2L336.55 203.18L336.8 203.15L337.05 203.1L337.3 203.05L337.55 203.01L337.8 202.97L338.05 202.95L338.3 202.96L338.55 202.98L338.8 203.03L339.05 203.08L339.3 203.14L339.55 203.19L339.8 203.24L340.05 203.28L340.3 203.3L340.55 203.31L340.8 203.3L341.05 203.29L341.3 203.27L341.55 203.24L341.8 203.21L342.05 203.16L342.3 203.12L342.55 203.06L342.8 203.01L343.05 202.96L343.3 202.93L343.55 202.92L343.8 202.93L344.05 202.98L344.3 203.06L344.55 203.17L344.8 203.29L345.05 203.41L345.3 203.51L345.55 203.59L345.8 203.64L346.05 203.65L346.3 203.64L346.55 203.6L346.8 203.54L347.05 203.48L347.3 203.42L347.55 203.36L347.8 203.31L348.05 203.26L348.3 203.21L348.55 203.18L348.8 203.15L349.05 203.14L349.3 203.14L349.55 203.16L349.8 203.2L350.05 203.27L350.3 203.34L350.55 203.44L350.8 203.54L351.05 203.64L351.3 203.73L351.55 203.81L351.8 203.88L352.05 203.92L352.3 203.94L352.55 203.92L352.8 203.87L353.05 203.79L353.3 203.69L353.55 203.58L353.8 203.46L354.05 203.36L354.3 203.27L354.55 203.21L354.8 203.18L355.05 203.15L355.3 203.14L355.55 203.13L355.8 203.11L356.05 203.09L356.3 203.05L356.55 203L356.8 202.93L357.05 202.85L357.3 202.75L357.55 202.64L357.8 202.5L358.05 202.34L358.3 202.15L358.55 201.92L358.8 201.67L359.05 201.41L359.3 201.14L359.55 200.89L359.8 200.68L360.05 200.53L360.3 200.45L360.55 200.45L360.8 200.53L361.05 200.67L361.3 200.86L361.55 201.08L361.8 201.3L362.05 201.53L362.3 201.73L362.55 201.9L362.8 202.04L363.05 202.16L363.3 202.25L363.55 202.34L363.8 202.41L364.05 202.5L364.3 202.6L364.55 202.74L364.8 202.91L365.05 203.1L365.3 203.31L365.55 203.51L365.8 203.68L366.05 203.8L366.3 203.86L366.55 203.84L366.8 203.76L367.05 203.63L367.3 203.49L367.55 203.34L367.8 203.21L368.05 203.11L368.3 203.06L368.55 203.04L368.8 203.06L369.05 203.09L369.3 203.13L369.55 203.17L369.8 203.21L370.05 203.24L370.3 203.26L370.55 203.27L370.8 203.27L371.05 203.26L371.3 203.25L371.55 203.24L371.8 203.24L372.05 203.23L372.3 203.23L372.55 203.24L372.8 203.25L373.05 203.28L373.3 203.3L373.55 203.34L373.8 203.38L374.05 203.42L374.3 203.46L374.55 203.49L374.8 203.52L375.05 203.53L375.3 203.54L375.55 203.53L375.8 203.53L376.05 203.52L376.3 203.53L376.55 203.55L376.8 203.57L377.05 203.61L377.3 203.64L377.55 203.67L377.8 203.7L378.05 203.71L378.3 203.7L378.55 203.68L378.8 203.64L379.05 203.59L379.3 203.53L379.55 203.46L379.8 203.39L380.05 203.33L380.3 203.28L380.55 203.23L380.8 203.2L381.05 203.17L381.3 203.16L381.55 203.14L381.8 203.14L382.05 203.15L382.3 203.19L382.55 203.25L382.8 203.35L383.05 203.47L383.3 203.58L383.55 203.58L383.8 203.34L384.05 202.68L384.3 201.63L384.55 200.55L384.8 200L385.05 200.27L385.3 201.13L385.55 202.05L385.8 202.68L386.05 203L386.3 203.16L386.55 203.26L386.8 203.35L387.05 203.44L387.3 203.51L387.55 203.54L387.8 203.54L388.05 203.53L388.3 203.51L388.55 203.49L388.8 203.47L389.05 203.46L389.3 203.4L389.55 203.19L389.8 202.76L390.05 202.16L390.3 201.62L390.55 201.46L390.8 201.76L391.05 202.3L391.3 202.73L391.55 202.82L391.8 202.57L392.05 202.15L392.3 201.87L392.55 201.91L392.8 202.28L393.05 202.74L393.3 203.09L393.55 203.25L393.8 203.27L394.05 203.2L394.3 203.11L394.55 203.02L394.8 202.94L395.05 202.89L395.3 202.87L395.55 202.88L395.8 202.91L396.05 202.97L396.3 203.05L396.55 203.14L396.8 203.25L397.05 203.36L397.3 203.48L397.55 203.59L397.8 203.69L398.05 203.78L398.3 203.84L398.55 203.85L398.8 203.82L399.05 203.77L399.3 203.68L399.55 203.58L399.8 203.47L400.05 203.38L400.3 203.32L400.55 203.29L400.8 203.3L401.05 203.34L401.3 203.4L401.55 203.47L401.8 203.53L402.05 203.57L402.3 203.58L402.55 203.55L402.8 203.49L403.05 203.41L403.3 203.32L403.55 203.25L403.8 203.2L404.05 203.19L404.3 203.21L404.55 203.28L404.8 203.38L405.05 203.49L405.3 203.61L405.55 203.71L405.8 203.79L406.05 203.84L406.3 203.86L406.55 203.82L406.8 203.75L407.05 203.64L407.3 203.52L407.55 203.39L407.8 203.27L408.05 203.19L408.3 203.15L408.55 203.16L408.8 203.22L409.05 203.29L409.3 203.36L409.55 203.41L409.8 203.41L410.05 203.34L410.3 203.23L410.55 203.08L410.8 202.93L411.05 202.8L411.3 202.72L411.55 202.71L411.8 202.75L412.05 202.83L412.3 202.92L412.55 203L412.8 203.06L413.05 203.06L413.3 203.01L413.55 202.93L413.8 202.82L414.05 202.71L414.3 202.59L414.55 202.48L414.8 202.37L415.05 202.23L415.3 202.04L415.55 201.72L415.8 201L416.05 199.21L416.3 195.07L416.55 187.16L416.8 175.48L417.05 163.45L417.3 157.89L417.55 163.22L417.8 174.96L418.05 186.16L418.3 193.03L418.55 194.68L418.8 191.13L419.05 182.63L419.3 171L419.55 161.28L419.8 160.25L420.05 168.89L420.3 180.93L420.55 190.9L420.8 197L421.05 199.99L421.3 201.29L421.55 201.9L421.8 202.23L422.05 202.43L422.3 202.56L422.55 202.64L422.8 202.68L423.05 202.7L423.3 202.72L423.55 202.73L423.8 202.76L424.05 202.78L424.3 202.81L424.55 202.83L424.8 202.86L425.05 202.9L425.3 202.94L425.55 202.98L425.8 203.01L426.05 203.04L426.3 203.05L426.55 203.04L426.8 203.03L427.05 203.01L427.3 203L427.55 203L427.8 203.01L428.05 203.06L428.3 203.12L428.55 203.19L428.8 203.26L429.05 203.33L429.3 203.39L429.55 203.44L429.8 203.47L430.05 203.49L430.3 203.49L430.55 203.47L430.8 203.44L431.05 203.4L431.3 203.31L431.55 203.14L431.8 202.73L432.05 202.06L432.3 201.38L432.55 201.17L432.8 201.59L433.05 202.29L433.3 202.81L433.55 203L433.8 202.88L434.05 202.48L434.3 201.92L434.55 201.56L434.8 201.69L435.05 202.19L435.3 202.68L435.55 202.95L435.8 203.06L436.05 203.1L436.3 203.14L436.55 203.19L436.8 203.27L437.05 203.35L437.3 203.43L437.55 203.51L437.8 203.57L438.05 203.61L438.3 203.62L438.55 203.59L438.8 203.53L439.05 203.45L439.3 203.35L439.55 203.25L439.8 203.16L440.05 203.07L440.3 203.01L440.55 202.98L440.8 202.98L441.05 203.01L441.3 203.05L441.55 203.12L441.8 203.19L442.05 203.26L442.3 203.31L442.55 203.34L442.8 203.35L443.05 203.33L443.3 203.3L443.55 203.25L443.8 203.2L444.05 203.15L444.3 203.12L444.55 203.1L444.8 203.1L445.05 203.12L445.3 203.13L445.55 203.16L445.8 203.17L446.05 203.19L446.3 203.2L446.55 203.2L446.8 203.21L447.05 203.21L447.3 203.22L447.55 203.24L447.8 203.25L448.05 203.27L448.3 203.27L448.55 203.27L448.8 203.25L449.05 203.23L449.3 203.21L449.55 203.2L449.8 203.19L450.05 203.2L450.3 203.22L450.55 203.27L450.8 203.34L451.05 203.41L451.3 203.48L451.55 203.55L451.8 203.6L452.05 203.62L452.3 203.62L452.55 203.59L452.8 203.53L453.05 203.46L453.3 203.38L453.55 203.31L453.8 203.25L454.05 203.2L454.3 203.16L454.55 203.13L454.8 203.1L455.05 203.08L455.3 203.06L455.55 203.04L455.8 203.03L456.05 203.02L456.3 203.01L456.55 203.01L456.8 203.01L457.05 203.01L457.3 203.02L457.55 203.03L457.8 203.03L458.05 203.04L458.3 203.06L458.55 203.07L458.8 203.08L459.05 203.1L459.3 203.13L459.55 203.16L459.8 203.2L460.05 203.25L460.3 203.29L460.55 203.35L460.8 203.4L461.05 203.44L461.3 203.47L461.55 203.49L461.8 203.48L462.05 203.43L462.3 203.36L462.55 203.24L462.8 203.09L463.05 202.93L463.3 202.77L463.55 202.62L463.8 202.5L464.05 202.41L464.3 202.36L464.55 202.32L464.8 202.25L465.05 202.06L465.3 201.44L465.55 199.62L465.8 195.3L466.05 187.59L466.3 178.09L466.55 172.05L466.8 174.7L467.05 183.41L467.3 192.04L467.55 197.51L467.8 199.93L468.05 200.46L468.3 199.57L468.55 196.5L468.8 189.79L469.05 179.3L469.3 168.73L469.55 165.49L469.8 172.76L470.05 184.24L470.3 193.61L470.55 198.93L470.8 201.27L471.05 202.19L471.3 202.59L471.55 202.82L471.8 202.98L472.05 203.1L472.3 203.2L472.55 203.27L472.8 203.33L473.05 203.37L473.3 203.41L473.55 203.43L473.8 203.44L474.05 203.45L474.3 203.43L474.55 203.41L474.8 203.38L475.05 203.34L475.3 203.3L475.55 203.26L475.8 203.23L476.05 203.2L476.3 203.18L476.55 203.17L476.8 203.16L477.05 203.15L477.3 203.14L477.55 203.12L477.8 203.1L478.05 203.08L478.3 203.09L478.55 203.11L478.8 203.15L479.05 203.21L479.3 203.29L479.55 203.36L479.8 203.43L480.05 203.48L480.3 203.5L480.55 203.49L480.8 203.44L481.05 203.38L481.3 203.3L481.55 203.23L481.8 203.16L482.05 203.12L482.3 203.09L482.55 203.09L482.8 203.12L483.05 203.15L483.3 203.19L483.55 203.23L483.8 203.25L484.05 203.27L484.3 203.28L484.55 203.28L484.8 203.27L485.05 203.25L485.3 203.25L485.55 203.24L485.8 203.24L486.05 203.25L486.3 203.27L486.55 203.3L486.8 203.34L487.05 203.38L487.3 203.42L487.55 203.45L487.8 203.47L488.05 203.48L488.3 203.46L488.55 203.43L488.8 203.38L489.05 203.3L489.3 203.2L489.55 203.08L489.8 202.95L490.05 202.8L490.3 202.64L490.55 202.47L490.8 202.29L491.05 202.07L491.3 201.73L491.55 200.97L491.8 198.9L492.05 193.9L492.3 184.48L492.55 171.89L492.8 162.24L493.05 163.46L493.3 174.35L493.55 186.92L493.8 197.46L494.05 204.85L494.3 204.22L494.55 196.83L494.8 187.51L495.05 176.98L495.3 169.09L495.55 170.16L495.8 179.2L496.05 189.36L496.3 196.42L496.55 200L496.8 201.47L497.05 202.06L497.3 202.34L497.55 202.53L497.8 202.67L498.05 202.79L498.3 202.89L498.55 202.98L498.8 203.06L499.05 203.12L499.3 203.17L499.55 203.2L499.8 203.2L500.05 203.19L500.3 203.15L500.55 203.11L500.8 203.07L501.05 203.03L501.3 202.99L501.55 202.97L501.8 202.95L502.05 202.95L502.3 202.95L502.55 202.96L502.8 202.98L503.05 203.01L503.3 203.04L503.55 203.08L503.8 203.12L504.05 203.16L504.3 203.19L504.55 203.21L504.8 203.22L505.05 203.23L505.3 203.24L505.55 203.24L505.8 203.24L506.05 203.25L506.3 203.25L506.55 203.26L506.8 203.27L507.05 203.27L507.3 203.27L507.55 203.26L507.8 203.25L508.05 203.22L508.3 203.18L508.55 203.13L508.8 203.07L509.05 203L509.3 202.94L509.55 202.89L509.8 202.85L510.05 202.85L510.3 202.89L510.55 202.96L510.8 203.07L511.05 203.2L511.3 203.34L511.55 203.48" fill="none" stroke="#8f1539" stroke-width="1.3" stroke-linejoin="round" stroke-linecap="round"/>
<path d="M240.3 202.91L240.55 202.89L240.8 202.87L241.05 202.85L241.3 202.84L241.55 202.84L241.8 202.86L242.05 202.89L242.3 202.94L242.55 203L242.8 203.07L243.05 203.13L243.3 203.19L243.55 203.22L243.8 203.24L244.05 203.23L244.3 203.2L244.55 203.14L244.8 203.07L245.05 202.99L245.3 202.92L245.55 202.85L245.8 202.8L246.05 202.77L246.3 202.77L246.55 202.81L246.8 202.87L247.05 202.95L247.3 203.04L247.55 203.13L247.8 203.21L248.05 203.27L248.3 203.31L248.55 203.32L248.8 203.3L249.05 203.27L249.3 203.22L249.55 203.17L249.8 203.13L250.05 203.09L250.3 203.07L250.55 203.08L250.8 203.1L251.05 203.12L251.3 203.16L251.55 203.2L251.8 203.24L252.05 203.27L252.3 203.29L252.55 203.3L252.8 203.3L253.05 203.29L253.3 203.27L253.55 203.25L253.8 203.23L254.05 203.21L254.3 203.19L254.55 203.18L254.8 203.18L255.05 203.18L255.3 203.19L255.55 203.2L255.8 203.21L256.05 203.22L256.3 203.22L256.55 203.22L256.8 203.21L257.05 203.2L257.3 203.18L257.55 203.15L257.8 203.12L258.05 203.08L258.3 203.03L258.55 202.98L258.8 202.92L259.05 202.85L259.3 202.79L259.55 202.73L259.8 202.67L260.05 202.62L260.3 202.59L260.55 202.56L260.8 202.56L261.05 202.57L261.3 202.6L261.55 202.65L261.8 202.71L262.05 202.78L262.3 202.84L262.55 202.89L262.8 202.91L263.05 202.91L263.3 202.88L263.55 202.83L263.8 202.77L264.05 202.7L264.3 202.63L264.55 202.57L264.8 202.51L265.05 202.46L265.3 202.42L265.55 202.38L265.8 202.35L266.05 202.33L266.3 202.31L266.55 202.31L266.8 202.33L267.05 202.34L267.3 202.35L267.55 202.35L267.8 202.34L268.05 202.29L268.3 202.21L268.55 202.05L268.8 201.71L269.05 200.82L269.3 198.71L269.55 194.78L269.8 189.6L270.05 185.68L270.3 186.06L270.55 190.12L270.8 194.17L271.05 195.35L271.3 192.94L271.55 188.56L271.8 185.71L272.05 187.33L272.3 192.2L272.55 197.07L272.8 200.2L273.05 201.66L273.3 202.18L273.55 202.32L273.8 202.35L274.05 202.35L274.3 202.33L274.55 202.32L274.8 202.31L275.05 202.31L275.3 202.31L275.55 202.32L275.8 202.34L276.05 202.37L276.3 202.41L276.55 202.47L276.8 202.53L277.05 202.59L277.3 202.66L277.55 202.73L277.8 202.8L278.05 202.86L278.3 202.92L278.55 202.97L278.8 203.01L279.05 203.03L279.3 203.03L279.55 202.98L279.8 202.79L280.05 202.14L280.3 200.51L280.55 197.58L280.8 194.37L281.05 193.29L281.3 195.4L281.55 198.61L281.8 200.96L282.05 202.08L282.3 202.48L282.55 202.63L282.8 202.73L283.05 202.82L283.3 202.9L283.55 202.97L283.8 203.03L284.05 203.07L284.3 203.08L284.55 203.08L284.8 203.06L285.05 203.04L285.3 203.03L285.55 203.03L285.8 203.05L286.05 203.07L286.3 203.11L286.55 203.14L286.8 203.18L287.05 203.19L287.3 203.2L287.55 203.2L287.8 203.19L288.05 203.18L288.3 203.16L288.55 203.15L288.8 203.15L289.05 203.15L289.3 203.15L289.55 203.17L289.8 203.21L290.05 203.25L290.3 203.31L290.55 203.38L290.8 203.44L291.05 203.5L291.3 203.53L291.55 203.54L291.8 203.52L292.05 203.48L292.3 203.41L292.55 203.32L292.8 203.22L293.05 203.12L293.3 203.03L293.55 202.96L293.8 202.91L294.05 202.9L294.3 202.92L294.55 202.99L294.8 203.08L295.05 203.2L295.3 203.33L295.55 203.45L295.8 203.56L296.05 203.64L296.3 203.68L296.55 203.67L296.8 203.63L297.05 203.56L297.3 203.47L297.55 203.36L297.8 203.25L298.05 203.14L298.3 203.04L298.55 202.95L298.8 202.87L299.05 202.8L299.3 202.75L299.55 202.71L299.8 202.69L300.05 202.69L300.3 202.71L300.55 202.76L300.8 202.83L301.05 202.92L301.3 203.02L301.55 203.12L301.8 203.22L302.05 203.31L302.3 203.39L302.55 203.47L302.8 203.53L303.05 203.58L303.3 203.61L303.55 203.63L303.8 203.63L304.05 203.6L304.3 203.57L304.55 203.52L304.8 203.46L305.05 203.41L305.3 203.37L305.55 203.34L305.8 203.32L306.05 203.32L306.3 203.32L306.55 203.34L306.8 203.37L307.05 203.41L307.3 203.45L307.55 203.49L307.8 203.53L308.05 203.55L308.3 203.57L308.55 203.58L308.8 203.58L309.05 203.58L309.3 203.58L309.55 203.59L309.8 203.61L310.05 203.63L310.3 203.64L310.55 203.63L310.8 203.6L311.05 203.56L311.3 203.49L311.55 203.4L311.8 203.3L312.05 203.2L312.3 203.09L312.55 202.99L312.8 202.89L313.05 202.8L313.3 202.72L313.55 202.67L313.8 202.65L314.05 202.65L314.3 202.68L314.55 202.72L314.8 202.78L315.05 202.84L315.3 202.91L315.55 202.96L315.8 203.02L316.05 203.07L316.3 203.13L316.55 203.2L316.8 203.28L317.05 203.37L317.3 203.46L317.55 203.56L317.8 203.65L318.05 203.73L318.3 203.8L318.55 203.85L318.8 203.88L319.05 203.89L319.3 203.87L319.55 203.84L319.8 203.77L320.05 203.68L320.3 203.57L320.55 203.47L320.8 203.37L321.05 203.29L321.3 203.22L321.55 203.19L321.8 203.18L322.05 203.18L322.3 203.18L322.55 203.19L322.8 203.19L323.05 203.19L323.3 203.18L323.55 203.17L323.8 203.16L324.05 203.16L324.3 203.17L324.55 203.19L324.8 203.22L325.05 203.26L325.3 203.3L325.55 203.33L325.8 203.36L326.05 203.37L326.3 203.36L326.55 203.34L326.8 203.32L327.05 203.28L327.3 203.25L327.55 203.23L327.8 203.21L328.05 203.19L328.3 203.19L328.55 203.19L328.8 203.2L329.05 203.22L329.3 203.24L329.55 203.27L329.8 203.3L330.05 203.33L330.3 203.37L330.55 203.4L330.8 203.44L331.05 203.48L331.3 203.51L331.55 203.54L331.8 203.56L332.05 203.57L332.3 203.56L332.55 203.54L332.8 203.49L333.05 203.43L333.3 203.36L333.55 203.27L333.8 203.18L334.05 203.09L334.3 203.02L334.55 202.96L334.8 202.93L335.05 202.92L335.3 202.93L335.55 202.94L335.8 202.97L336.05 202.99L336.3 203.02L336.55 203.03L336.8 203.04L337.05 203.05L337.3 203.05L337.55 203.05L337.8 203.04L338.05 203.04L338.3 203.04L338.55 203.05L338.8 203.07L339.05 203.1L339.3 203.13L339.55 203.15L339.8 203.18L340.05 203.19L340.3 203.2L340.55 203.2L340.8 203.19L341.05 203.19L341.3 203.18L341.55 203.17L341.8 203.15L342.05 203.14L342.3 203.12L342.55 203.1L342.8 203.08L343.05 203.06L343.3 203.04L343.55 203.03L343.8 203.03L344.05 203.05L344.3 203.08L344.55 203.13L344.8 203.21L345.05 203.29L345.3 203.39L345.55 203.48L345.8 203.57L346.05 203.64L346.3 203.69L346.55 203.71L346.8 203.69L347.05 203.66L347.3 203.61L347.55 203.55L347.8 203.49L348.05 203.43L348.3 203.37L348.55 203.33L348.8 203.3L349.05 203.28L349.3 203.27L349.55 203.27L349.8 203.28L350.05 203.3L350.3 203.32L350.55 203.36L350.8 203.41L351.05 203.47L351.3 203.54L351.55 203.62L351.8 203.7L352.05 203.76L352.3 203.81L352.55 203.83L352.8 203.81L353.05 203.76L353.3 203.69L353.55 203.6L353.8 203.51L354.05 203.43L354.3 203.36L354.55 203.32L354.8 203.3L355.05 203.3L355.3 203.31L355.55 203.31L355.8 203.32L356.05 203.31L356.3 203.3L356.55 203.29L356.8 203.27L357.05 203.26L357.3 203.26L357.55 203.26L357.8 203.26L358.05 203.26L358.3 203.26L358.55 203.24L358.8 203.23L359.05 203.21L359.3 203.19L359.55 203.18L359.8 203.17L360.05 203.18L360.3 203.2L360.55 203.23L360.8 203.28L361.05 203.33L361.3 203.38L361.55 203.43L361.8 203.47L362.05 203.5L362.3 203.51L362.55 203.48L362.8 203.44L363.05 203.37L363.3 203.29L363.55 203.22L363.8 203.14L364.05 203.1L364.3 203.08L364.55 203.11L364.8 203.19L365.05 203.3L365.3 203.44L365.55 203.58L365.8 203.71L366.05 203.82L366.3 203.89L366.55 203.91L366.8 203.88L367.05 203.82L367.3 203.72L367.55 203.61L367.8 203.48L368.05 203.36L368.3 203.24L368.55 203.15L368.8 203.07L369.05 203.02L369.3 202.99L369.55 202.98L369.8 202.99L370.05 203.01L370.3 203.03L370.55 203.06L370.8 203.09L371.05 203.13L371.3 203.16L371.55 203.19L371.8 203.23L372.05 203.25L372.3 203.28L372.55 203.29L372.8 203.3L373.05 203.31L373.3 203.32L373.55 203.32L373.8 203.33L374.05 203.35L374.3 203.36L374.55 203.37L374.8 203.37L375.05 203.38L375.3 203.38L375.55 203.38L375.8 203.39L376.05 203.4L376.3 203.43L376.55 203.46L376.8 203.5L377.05 203.54L377.3 203.58L377.55 203.61L377.8 203.63L378.05 203.63L378.3 203.62L378.55 203.58L378.8 203.54L379.05 203.47L379.3 203.41L379.55 203.34L379.8 203.26L380.05 203.2L380.3 203.15L380.55 203.11L380.8 203.09L381.05 203.09L381.3 203.11L381.55 203.15L381.8 203.2L382.05 203.26L382.3 203.33L382.55 203.41L382.8 203.49L383.05 203.55L383.3 203.58L383.55 203.5L383.8 203.17L384.05 202.47L384.3 201.42L384.55 200.4L384.8 199.95L385.05 200.34L385.3 201.32L385.55 202.33L385.8 203.01L386.05 203.32L386.3 203.41L386.55 203.41L386.8 203.4L387.05 203.38L387.3 203.37L387.55 203.37L387.8 203.38L388.05 203.39L388.3 203.41L388.55 203.44L388.8 203.47L389.05 203.49L389.3 203.45L389.55 203.26L389.8 202.84L390.05 202.24L390.3 201.72L390.55 201.56L390.8 201.87L391.05 202.41L391.3 202.84L391.55 202.91L391.8 202.61L392.05 202.14L392.3 201.78L392.55 201.75L392.8 202.05L393.05 202.47L393.3 202.81L393.55 203L393.8 203.07L394.05 203.08L394.3 203.06L394.55 203.03L394.8 203L395.05 202.97L395.3 202.94L395.55 202.92L395.8 202.91L396.05 202.93L396.3 202.96L396.55 203.03L396.8 203.11L397.05 203.21L397.3 203.33L397.55 203.45L397.8 203.58L398.05 203.7L398.3 203.8L398.55 203.86L398.8 203.87L399.05 203.85L399.3 203.79L399.55 203.7L399.8 203.59L400.05 203.49L400.3 203.41L400.55 203.36L400.8 203.35L401.05 203.38L401.3 203.44L401.55 203.5L401.8 203.55L402.05 203.58L402.3 203.58L402.55 203.52L402.8 203.43L403.05 203.33L403.3 203.22L403.55 203.14L403.8 203.09L404.05 203.1L404.3 203.16L404.55 203.27L404.8 203.41L405.05 203.55L405.3 203.67L405.55 203.76L405.8 203.81L406.05 203.84L406.3 203.83L406.55 203.79L406.8 203.75L407.05 203.7L407.3 203.66L407.55 203.63L407.8 203.59L408.05 203.56L408.3 203.53L408.55 203.49L408.8 203.45L409.05 203.41L409.3 203.37L409.55 203.32L409.8 203.27L410.05 203.21L410.3 203.15L410.55 203.09L410.8 203.04L411.05 203L411.3 202.98L411.55 203L411.8 203.03L412.05 203.09L412.3 203.16L412.55 203.22L412.8 203.27L413.05 203.3L413.3 203.3L413.55 203.28L413.8 203.27L414.05 203.25L414.3 203.25L414.55 203.27L414.8 203.3L415.05 203.33L415.3 203.35L415.55 203.36L415.8 203.34L416.05 203.29L416.3 203.21L416.55 203.13L416.8 203.03L417.05 202.91L417.3 202.67L417.55 202.08L417.8 200.85L418.05 198.92L418.3 196.97L418.55 196.35L418.8 197.65L419.05 199.69L419.3 201.3L419.55 202.13L419.8 202.34L420.05 202.13L420.3 201.42L420.55 199.85L420.8 197.29L421.05 194.45L421.3 193.11L421.55 194.53L421.8 197.46L422.05 200.11L422.3 201.75L422.55 202.56L422.8 202.92L423.05 203.11L423.3 203.23L423.55 203.29L423.8 203.32L424.05 203.32L424.3 203.29L424.55 203.24L424.8 203.18L425.05 203.12L425.3 203.07L425.55 203.02L425.8 202.99L426.05 202.98L426.3 202.99L426.55 203.02L426.8 203.07L427.05 203.14L427.3 203.21L427.55 203.27L427.8 203.32L428.05 203.35L428.3 203.37L428.55 203.37L428.8 203.35L429.05 203.34L429.3 203.32L429.55 203.3L429.8 203.29L430.05 203.28L430.3 203.27L430.55 203.26L430.8 203.24L431.05 203.21L431.3 203.15L431.55 203L431.8 202.62L432.05 201.97L432.3 201.29L432.55 201.07L432.8 201.48L433.05 202.15L433.3 202.65L433.55 202.82L433.8 202.68L434.05 202.26L434.3 201.69L434.55 201.33L434.8 201.47L435.05 201.98L435.3 202.48L435.55 202.76L435.8 202.88L436.05 202.93L436.3 202.98L436.55 203.04L436.8 203.11L437.05 203.18L437.3 203.25L437.55 203.31L437.8 203.36L438.05 203.38L438.3 203.39L438.55 203.36L438.8 203.32L439.05 203.25L439.3 203.18L439.55 203.09L439.8 203.01L440.05 202.94L440.3 202.88L440.55 202.84L440.8 202.84L441.05 202.85L441.3 202.89L441.55 202.95L441.8 203.01L442.05 203.09L442.3 203.15L442.55 203.2L442.8 203.24L443.05 203.27L443.3 203.29L443.55 203.3L443.8 203.31L444.05 203.3L444.3 203.29L444.55 203.28L444.8 203.26L445.05 203.25L445.3 203.24L445.55 203.24L445.8 203.26L446.05 203.29L446.3 203.32L446.55 203.36L446.8 203.39L447.05 203.41L447.3 203.41L447.55 203.39L447.8 203.34L448.05 203.28L448.3 203.21L448.55 203.14L448.8 203.07L449.05 203.02L449.3 202.99L449.55 202.98L449.8 202.99L450.05 203.02L450.3 203.08L450.55 203.16L450.8 203.26L451.05 203.37L451.3 203.48L451.55 203.58L451.8 203.67L452.05 203.73L452.3 203.76L452.55 203.76L452.8 203.72L453.05 203.65L453.3 203.57L453.55 203.46L453.8 203.35L454.05 203.25L454.3 203.15L454.55 203.07L454.8 203.01L455.05 202.97L455.3 202.95L455.55 202.95L455.8 202.95L456.05 202.96L456.3 202.97L456.55 202.97L456.8 202.97L457.05 202.97L457.3 202.98L457.55 203.01L457.8 203.04L458.05 203.1L458.3 203.16L458.55 203.22L458.8 203.28L459.05 203.33L459.3 203.35L459.55 203.35L459.8 203.33L460.05 203.31L460.3 203.29L460.55 203.29L460.8 203.32L461.05 203.39L461.3 203.47L461.55 203.55L461.8 203.61L462.05 203.64L462.3 203.61L462.55 203.51L462.8 203.35L463.05 203.18L463.3 203L463.55 202.84L463.8 202.73L464.05 202.68L464.3 202.7L464.55 202.77L464.8 202.89L465.05 203.02L465.3 203.14L465.55 203.22L465.8 203.24L466.05 203.12L466.3 202.8L466.55 202.25L466.8 201.69L467.05 201.46L467.3 201.73L467.55 202.2L467.8 202.57L468.05 202.76L468.3 202.8L468.55 202.78L468.8 202.69L469.05 202.48L469.3 202.08L469.55 201.56L469.8 201.18L470.05 201.28L470.3 201.79L470.55 202.38L470.8 202.81L471.05 203.06L471.3 203.21L471.55 203.32L471.8 203.42L472.05 203.52L472.3 203.61L472.55 203.68L472.8 203.73L473.05 203.75L473.3 203.74L473.55 203.71L473.8 203.67L474.05 203.61L474.3 203.54L474.55 203.47L474.8 203.38L475.05 203.27L475.3 203.14L475.55 203.02L475.8 202.92L476.05 202.84L476.3 202.8L476.55 202.8L476.8 202.83L477.05 202.88L477.3 202.94L477.55 203.01L477.8 203.08L478.05 203.15L478.3 203.22L478.55 203.28L478.8 203.33L479.05 203.35L479.3 203.36L479.55 203.35L479.8 203.33L480.05 203.3L480.3 203.27L480.55 203.24L480.8 203.22L481.05 203.2L481.3 203.18L481.55 203.16L481.8 203.15L482.05 203.13L482.3 203.12L482.55 203.13L482.8 203.15L483.05 203.18L483.3 203.2L483.55 203.23L483.8 203.24L484.05 203.25L484.3 203.25L484.55 203.24L484.8 203.23L485.05 203.23L485.3 203.23L485.55 203.24L485.8 203.24L486.05 203.25L486.3 203.25L486.55 203.25L486.8 203.25L487.05 203.26L487.3 203.27L487.55 203.3L487.8 203.36L488.05 203.43L488.3 203.52L488.55 203.6L488.8 203.67L489.05 203.71L489.3 203.7L489.55 203.65L489.8 203.57L490.05 203.46L490.3 203.34L490.55 203.23L490.8 203.14L491.05 203.09L491.3 203.06L491.55 203.05L491.8 203.05L492.05 203.03L492.3 202.93L492.55 202.69L492.8 202.28L493.05 201.82L493.3 201.6L493.55 201.8L493.8 202.23L494.05 202.63L494.3 202.85L494.55 202.9L494.8 202.81L495.05 202.56L495.3 202.14L495.55 201.68L495.8 201.47L496.05 201.69L496.3 202.16L496.55 202.62L496.8 202.92L497.05 203.09L497.3 203.18L497.55 203.24L497.8 203.28L498.05 203.3L498.3 203.28L498.55 203.24L498.8 203.18L499.05 203.1L499.3 203.02L499.55 202.95L499.8 202.9L500.05 202.87L500.3 202.87L500.55 202.89L500.8 202.92L501.05 202.96L501.3 203L501.55 203.04L501.8 203.06L502.05 203.08L502.3 203.09L502.55 203.1L502.8 203.11L503.05 203.13L503.3 203.14L503.55 203.16L503.8 203.18L504.05 203.2L504.3 203.22L504.55 203.25L504.8 203.27L505.05 203.28L505.3 203.29L505.55 203.3L505.8 203.29L506.05 203.27L506.3 203.25L506.55 203.24L506.8 203.24L507.05 203.26L507.3 203.31L507.55 203.4L507.8 203.49L508.05 203.59L508.3 203.67L508.55 203.72L508.8 203.72L509.05 203.67L509.3 203.58L509.55 203.46L509.8 203.34L510.05 203.23L510.3 203.16L510.55 203.13L510.8 203.15L511.05 203.19L511.3 203.25L511.55 203.33Z" fill="#78a850" fill-opacity="0.5" stroke="none"/>
<path d="M240.3 202.91L240.55 202.89L240.8 202.87L241.05 202.85L241.3 202.84L241.55 202.84L241.8 202.86L242.05 202.89L242.3 202.94L242.55 203L242.8 203.07L243.05 203.13L243.3 203.19L243.55 203.22L243.8 203.24L244.05 203.23L244.3 203.2L244.55 203.14L244.8 203.07L245.05 202.99L245.3 202.92L245.55 202.85L245.8 202.8L246.05 202.77L246.3 202.77L246.55 202.81L246.8 202.87L247.05 202.95L247.3 203.04L247.55 203.13L247.8 203.21L248.05 203.27L248.3 203.31L248.55 203.32L248.8 203.3L249.05 203.27L249.3 203.22L249.55 203.17L249.8 203.13L250.05 203.09L250.3 203.07L250.55 203.08L250.8 203.1L251.05 203.12L251.3 203.16L251.55 203.2L251.8 203.24L252.05 203.27L252.3 203.29L252.55 203.3L252.8 203.3L253.05 203.29L253.3 203.27L253.55 203.25L253.8 203.23L254.05 203.21L254.3 203.19L254.55 203.18L254.8 203.18L255.05 203.18L255.3 203.19L255.55 203.2L255.8 203.21L256.05 203.22L256.3 203.22L256.55 203.22L256.8 203.21L257.05 203.2L257.3 203.18L257.55 203.15L257.8 203.12L258.05 203.08L258.3 203.03L258.55 202.98L258.8 202.92L259.05 202.85L259.3 202.79L259.55 202.73L259.8 202.67L260.05 202.62L260.3 202.59L260.55 202.56L260.8 202.56L261.05 202.57L261.3 202.6L261.55 202.65L261.8 202.71L262.05 202.78L262.3 202.84L262.55 202.89L262.8 202.91L263.05 202.91L263.3 202.88L263.55 202.83L263.8 202.77L264.05 202.7L264.3 202.63L264.55 202.57L264.8 202.51L265.05 202.46L265.3 202.42L265.55 202.38L265.8 202.35L266.05 202.33L266.3 202.31L266.55 202.31L266.8 202.33L267.05 202.34L267.3 202.35L267.55 202.35L267.8 202.34L268.05 202.29L268.3 202.21L268.55 202.05L268.8 201.71L269.05 200.82L269.3 198.71L269.55 194.78L269.8 189.6L270.05 185.68L270.3 186.06L270.55 190.12L270.8 194.17L271.05 195.35L271.3 192.94L271.55 188.56L271.8 185.71L272.05 187.33L272.3 192.2L272.55 197.07L272.8 200.2L273.05 201.66L273.3 202.18L273.55 202.32L273.8 202.35L274.05 202.35L274.3 202.33L274.55 202.32L274.8 202.31L275.05 202.31L275.3 202.31L275.55 202.32L275.8 202.34L276.05 202.37L276.3 202.41L276.55 202.47L276.8 202.53L277.05 202.59L277.3 202.66L277.55 202.73L277.8 202.8L278.05 202.86L278.3 202.92L278.55 202.97L278.8 203.01L279.05 203.03L279.3 203.03L279.55 202.98L279.8 202.79L280.05 202.14L280.3 200.51L280.55 197.58L280.8 194.37L281.05 193.29L281.3 195.4L281.55 198.61L281.8 200.96L282.05 202.08L282.3 202.48L282.55 202.63L282.8 202.73L283.05 202.82L283.3 202.9L283.55 202.97L283.8 203.03L284.05 203.07L284.3 203.08L284.55 203.08L284.8 203.06L285.05 203.04L285.3 203.03L285.55 203.03L285.8 203.05L286.05 203.07L286.3 203.11L286.55 203.14L286.8 203.18L287.05 203.19L287.3 203.2L287.55 203.2L287.8 203.19L288.05 203.18L288.3 203.16L288.55 203.15L288.8 203.15L289.05 203.15L289.3 203.15L289.55 203.17L289.8 203.21L290.05 203.25L290.3 203.31L290.55 203.38L290.8 203.44L291.05 203.5L291.3 203.53L291.55 203.54L291.8 203.52L292.05 203.48L292.3 203.41L292.55 203.32L292.8 203.22L293.05 203.12L293.3 203.03L293.55 202.96L293.8 202.91L294.05 202.9L294.3 202.92L294.55 202.99L294.8 203.08L295.05 203.2L295.3 203.33L295.55 203.45L295.8 203.56L296.05 203.64L296.3 203.68L296.55 203.67L296.8 203.63L297.05 203.56L297.3 203.47L297.55 203.36L297.8 203.25L298.05 203.14L298.3 203.04L298.55 202.95L298.8 202.87L299.05 202.8L299.3 202.75L299.55 202.71L299.8 202.69L300.05 202.69L300.3 202.71L300.55 202.76L300.8 202.83L301.05 202.92L301.3 203.02L301.55 203.12L301.8 203.22L302.05 203.31L302.3 203.39L302.55 203.47L302.8 203.53L303.05 203.58L303.3 203.61L303.55 203.63L303.8 203.63L304.05 203.6L304.3 203.57L304.55 203.52L304.8 203.46L305.05 203.41L305.3 203.37L305.55 203.34L305.8 203.32L306.05 203.32L306.3 203.32L306.55 203.34L306.8 203.37L307.05 203.41L307.3 203.45L307.55 203.49L307.8 203.53L308.05 203.55L308.3 203.57L308.55 203.58L308.8 203.58L309.05 203.58L309.3 203.58L309.55 203.59L309.8 203.61L310.05 203.63L310.3 203.64L310.55 203.63L310.8 203.6L311.05 203.56L311.3 203.49L311.55 203.4L311.8 203.3L312.05 203.2L312.3 203.09L312.55 202.99L312.8 202.89L313.05 202.8L313.3 202.72L313.55 202.67L313.8 202.65L314.05 202.65L314.3 202.68L314.55 202.72L314.8 202.78L315.05 202.84L315.3 202.91L315.55 202.96L315.8 203.02L316.05 203.07L316.3 203.13L316.55 203.2L316.8 203.28L317.05 203.37L317.3 203.46L317.55 203.56L317.8 203.65L318.05 203.73L318.3 203.8L318.55 203.85L318.8 203.88L319.05 203.89L319.3 203.87L319.55 203.84L319.8 203.77L320.05 203.68L320.3 203.57L320.55 203.47L320.8 203.37L321.05 203.29L321.3 203.22L321.55 203.19L321.8 203.18L322.05 203.18L322.3 203.18L322.55 203.19L322.8 203.19L323.05 203.19L323.3 203.18L323.55 203.17L323.8 203.16L324.05 203.16L324.3 203.17L324.55 203.19L324.8 203.22L325.05 203.26L325.3 203.3L325.55 203.33L325.8 203.36L326.05 203.37L326.3 203.36L326.55 203.34L326.8 203.32L327.05 203.28L327.3 203.25L327.55 203.23L327.8 203.21L328.05 203.19L328.3 203.19L328.55 203.19L328.8 203.2L329.05 203.22L329.3 203.24L329.55 203.27L329.8 203.3L330.05 203.33L330.3 203.37L330.55 203.4L330.8 203.44L331.05 203.48L331.3 203.51L331.55 203.54L331.8 203.56L332.05 203.57L332.3 203.56L332.55 203.54L332.8 203.49L333.05 203.43L333.3 203.36L333.55 203.27L333.8 203.18L334.05 203.09L334.3 203.02L334.55 202.96L334.8 202.93L335.05 202.92L335.3 202.93L335.55 202.94L335.8 202.97L336.05 202.99L336.3 203.02L336.55 203.03L336.8 203.04L337.05 203.05L337.3 203.05L337.55 203.05L337.8 203.04L338.05 203.04L338.3 203.04L338.55 203.05L338.8 203.07L339.05 203.1L339.3 203.13L339.55 203.15L339.8 203.18L340.05 203.19L340.3 203.2L340.55 203.2L340.8 203.19L341.05 203.19L341.3 203.18L341.55 203.17L341.8 203.15L342.05 203.14L342.3 203.12L342.55 203.1L342.8 203.08L343.05 203.06L343.3 203.04L343.55 203.03L343.8 203.03L344.05 203.05L344.3 203.08L344.55 203.13L344.8 203.21L345.05 203.29L345.3 203.39L345.55 203.48L345.8 203.57L346.05 203.64L346.3 203.69L346.55 203.71L346.8 203.69L347.05 203.66L347.3 203.61L347.55 203.55L347.8 203.49L348.05 203.43L348.3 203.37L348.55 203.33L348.8 203.3L349.05 203.28L349.3 203.27L349.55 203.27L349.8 203.28L350.05 203.3L350.3 203.32L350.55 203.36L350.8 203.41L351.05 203.47L351.3 203.54L351.55 203.62L351.8 203.7L352.05 203.76L352.3 203.81L352.55 203.83L352.8 203.81L353.05 203.76L353.3 203.69L353.55 203.6L353.8 203.51L354.05 203.43L354.3 203.36L354.55 203.32L354.8 203.3L355.05 203.3L355.3 203.31L355.55 203.31L355.8 203.32L356.05 203.31L356.3 203.3L356.55 203.29L356.8 203.27L357.05 203.26L357.3 203.26L357.55 203.26L357.8 203.26L358.05 203.26L358.3 203.26L358.55 203.24L358.8 203.23L359.05 203.21L359.3 203.19L359.55 203.18L359.8 203.17L360.05 203.18L360.3 203.2L360.55 203.23L360.8 203.28L361.05 203.33L361.3 203.38L361.55 203.43L361.8 203.47L362.05 203.5L362.3 203.51L362.55 203.48L362.8 203.44L363.05 203.37L363.3 203.29L363.55 203.22L363.8 203.14L364.05 203.1L364.3 203.08L364.55 203.11L364.8 203.19L365.05 203.3L365.3 203.44L365.55 203.58L365.8 203.71L366.05 203.82L366.3 203.89L366.55 203.91L366.8 203.88L367.05 203.82L367.3 203.72L367.55 203.61L367.8 203.48L368.05 203.36L368.3 203.24L368.55 203.15L368.8 203.07L369.05 203.02L369.3 202.99L369.55 202.98L369.8 202.99L370.05 203.01L370.3 203.03L370.55 203.06L370.8 203.09L371.05 203.13L371.3 203.16L371.55 203.19L371.8 203.23L372.05 203.25L372.3 203.28L372.55 203.29L372.8 203.3L373.05 203.31L373.3 203.32L373.55 203.32L373.8 203.33L374.05 203.35L374.3 203.36L374.55 203.37L374.8 203.37L375.05 203.38L375.3 203.38L375.55 203.38L375.8 203.39L376.05 203.4L376.3 203.43L376.55 203.46L376.8 203.5L377.05 203.54L377.3 203.58L377.55 203.61L377.8 203.63L378.05 203.63L378.3 203.62L378.55 203.58L378.8 203.54L379.05 203.47L379.3 203.41L379.55 203.34L379.8 203.26L380.05 203.2L380.3 203.15L380.55 203.11L380.8 203.09L381.05 203.09L381.3 203.11L381.55 203.15L381.8 203.2L382.05 203.26L382.3 203.33L382.55 203.41L382.8 203.49L383.05 203.55L383.3 203.58L383.55 203.5L383.8 203.17L384.05 202.47L384.3 201.42L384.55 200.4L384.8 199.95L385.05 200.34L385.3 201.32L385.55 202.33L385.8 203.01L386.05 203.32L386.3 203.41L386.55 203.41L386.8 203.4L387.05 203.38L387.3 203.37L387.55 203.37L387.8 203.38L388.05 203.39L388.3 203.41L388.55 203.44L388.8 203.47L389.05 203.49L389.3 203.45L389.55 203.26L389.8 202.84L390.05 202.24L390.3 201.72L390.55 201.56L390.8 201.87L391.05 202.41L391.3 202.84L391.55 202.91L391.8 202.61L392.05 202.14L392.3 201.78L392.55 201.75L392.8 202.05L393.05 202.47L393.3 202.81L393.55 203L393.8 203.07L394.05 203.08L394.3 203.06L394.55 203.03L394.8 203L395.05 202.97L395.3 202.94L395.55 202.92L395.8 202.91L396.05 202.93L396.3 202.96L396.55 203.03L396.8 203.11L397.05 203.21L397.3 203.33L397.55 203.45L397.8 203.58L398.05 203.7L398.3 203.8L398.55 203.86L398.8 203.87L399.05 203.85L399.3 203.79L399.55 203.7L399.8 203.59L400.05 203.49L400.3 203.41L400.55 203.36L400.8 203.35L401.05 203.38L401.3 203.44L401.55 203.5L401.8 203.55L402.05 203.58L402.3 203.58L402.55 203.52L402.8 203.43L403.05 203.33L403.3 203.22L403.55 203.14L403.8 203.09L404.05 203.1L404.3 203.16L404.55 203.27L404.8 203.41L405.05 203.55L405.3 203.67L405.55 203.76L405.8 203.81L406.05 203.84L406.3 203.83L406.55 203.79L406.8 203.75L407.05 203.7L407.3 203.66L407.55 203.63L407.8 203.59L408.05 203.56L408.3 203.53L408.55 203.49L408.8 203.45L409.05 203.41L409.3 203.37L409.55 203.32L409.8 203.27L410.05 203.21L410.3 203.15L410.55 203.09L410.8 203.04L411.05 203L411.3 202.98L411.55 203L411.8 203.03L412.05 203.09L412.3 203.16L412.55 203.22L412.8 203.27L413.05 203.3L413.3 203.3L413.55 203.28L413.8 203.27L414.05 203.25L414.3 203.25L414.55 203.27L414.8 203.3L415.05 203.33L415.3 203.35L415.55 203.36L415.8 203.34L416.05 203.29L416.3 203.21L416.55 203.13L416.8 203.03L417.05 202.91L417.3 202.67L417.55 202.08L417.8 200.85L418.05 198.92L418.3 196.97L418.55 196.35L418.8 197.65L419.05 199.69L419.3 201.3L419.55 202.13L419.8 202.34L420.05 202.13L420.3 201.42L420.55 199.85L420.8 197.29L421.05 194.45L421.3 193.11L421.55 194.53L421.8 197.46L422.05 200.11L422.3 201.75L422.55 202.56L422.8 202.92L423.05 203.11L423.3 203.23L423.55 203.29L423.8 203.32L424.05 203.32L424.3 203.29L424.55 203.24L424.8 203.18L425.05 203.12L425.3 203.07L425.55 203.02L425.8 202.99L426.05 202.98L426.3 202.99L426.55 203.02L426.8 203.07L427.05 203.14L427.3 203.21L427.55 203.27L427.8 203.32L428.05 203.35L428.3 203.37L428.55 203.37L428.8 203.35L429.05 203.34L429.3 203.32L429.55 203.3L429.8 203.29L430.05 203.28L430.3 203.27L430.55 203.26L430.8 203.24L431.05 203.21L431.3 203.15L431.55 203L431.8 202.62L432.05 201.97L432.3 201.29L432.55 201.07L432.8 201.48L433.05 202.15L433.3 202.65L433.55 202.82L433.8 202.68L434.05 202.26L434.3 201.69L434.55 201.33L434.8 201.47L435.05 201.98L435.3 202.48L435.55 202.76L435.8 202.88L436.05 202.93L436.3 202.98L436.55 203.04L436.8 203.11L437.05 203.18L437.3 203.25L437.55 203.31L437.8 203.36L438.05 203.38L438.3 203.39L438.55 203.36L438.8 203.32L439.05 203.25L439.3 203.18L439.55 203.09L439.8 203.01L440.05 202.94L440.3 202.88L440.55 202.84L440.8 202.84L441.05 202.85L441.3 202.89L441.55 202.95L441.8 203.01L442.05 203.09L442.3 203.15L442.55 203.2L442.8 203.24L443.05 203.27L443.3 203.29L443.55 203.3L443.8 203.31L444.05 203.3L444.3 203.29L444.55 203.28L444.8 203.26L445.05 203.25L445.3 203.24L445.55 203.24L445.8 203.26L446.05 203.29L446.3 203.32L446.55 203.36L446.8 203.39L447.05 203.41L447.3 203.41L447.55 203.39L447.8 203.34L448.05 203.28L448.3 203.21L448.55 203.14L448.8 203.07L449.05 203.02L449.3 202.99L449.55 202.98L449.8 202.99L450.05 203.02L450.3 203.08L450.55 203.16L450.8 203.26L451.05 203.37L451.3 203.48L451.55 203.58L451.8 203.67L452.05 203.73L452.3 203.76L452.55 203.76L452.8 203.72L453.05 203.65L453.3 203.57L453.55 203.46L453.8 203.35L454.05 203.25L454.3 203.15L454.55 203.07L454.8 203.01L455.05 202.97L455.3 202.95L455.55 202.95L455.8 202.95L456.05 202.96L456.3 202.97L456.55 202.97L456.8 202.97L457.05 202.97L457.3 202.98L457.55 203.01L457.8 203.04L458.05 203.1L458.3 203.16L458.55 203.22L458.8 203.28L459.05 203.33L459.3 203.35L459.55 203.35L459.8 203.33L460.05 203.31L460.3 203.29L460.55 203.29L460.8 203.32L461.05 203.39L461.3 203.47L461.55 203.55L461.8 203.61L462.05 203.64L462.3 203.61L462.55 203.51L462.8 203.35L463.05 203.18L463.3 203L463.55 202.84L463.8 202.73L464.05 202.68L464.3 202.7L464.55 202.77L464.8 202.89L465.05 203.02L465.3 203.14L465.55 203.22L465.8 203.24L466.05 203.12L466.3 202.8L466.55 202.25L466.8 201.69L467.05 201.46L467.3 201.73L467.55 202.2L467.8 202.57L468.05 202.76L468.3 202.8L468.55 202.78L468.8 202.69L469.05 202.48L469.3 202.08L469.55 201.56L469.8 201.18L470.05 201.28L470.3 201.79L470.55 202.38L470.8 202.81L471.05 203.06L471.3 203.21L471.55 203.32L471.8 203.42L472.05 203.52L472.3 203.61L472.55 203.68L472.8 203.73L473.05 203.75L473.3 203.74L473.55 203.71L473.8 203.67L474.05 203.61L474.3 203.54L474.55 203.47L474.8 203.38L475.05 203.27L475.3 203.14L475.55 203.02L475.8 202.92L476.05 202.84L476.3 202.8L476.55 202.8L476.8 202.83L477.05 202.88L477.3 202.94L477.55 203.01L477.8 203.08L478.05 203.15L478.3 203.22L478.55 203.28L478.8 203.33L479.05 203.35L479.3 203.36L479.55 203.35L479.8 203.33L480.05 203.3L480.3 203.27L480.55 203.24L480.8 203.22L481.05 203.2L481.3 203.18L481.55 203.16L481.8 203.15L482.05 203.13L482.3 203.12L482.55 203.13L482.8 203.15L483.05 203.18L483.3 203.2L483.55 203.23L483.8 203.24L484.05 203.25L484.3 203.25L484.55 203.24L484.8 203.23L485.05 203.23L485.3 203.23L485.55 203.24L485.8 203.24L486.05 203.25L486.3 203.25L486.55 203.25L486.8 203.25L487.05 203.26L487.3 203.27L487.55 203.3L487.8 203.36L488.05 203.43L488.3 203.52L488.55 203.6L488.8 203.67L489.05 203.71L489.3 203.7L489.55 203.65L489.8 203.57L490.05 203.46L490.3 203.34L490.55 203.23L490.8 203.14L491.05 203.09L491.3 203.06L491.55 203.05L491.8 203.05L492.05 203.03L492.3 202.93L492.55 202.69L492.8 202.28L493.05 201.82L493.3 201.6L493.55 201.8L493.8 202.23L494.05 202.63L494.3 202.85L494.55 202.9L494.8 202.81L495.05 202.56L495.3 202.14L495.55 201.68L495.8 201.47L496.05 201.69L496.3 202.16L496.55 202.62L496.8 202.92L497.05 203.09L497.3 203.18L497.55 203.24L497.8 203.28L498.05 203.3L498.3 203.28L498.55 203.24L498.8 203.18L499.05 203.1L499.3 203.02L499.55 202.95L499.8 202.9L500.05 202.87L500.3 202.87L500.55 202.89L500.8 202.92L501.05 202.96L501.3 203L501.55 203.04L501.8 203.06L502.05 203.08L502.3 203.09L502.55 203.1L502.8 203.11L503.05 203.13L503.3 203.14L503.55 203.16L503.8 203.18L504.05 203.2L504.3 203.22L504.55 203.25L504.8 203.27L505.05 203.28L505.3 203.29L505.55 203.3L505.8 203.29L506.05 203.27L506.3 203.25L506.55 203.24L506.8 203.24L507.05 203.26L507.3 203.31L507.55 203.4L507.8 203.49L508.05 203.59L508.3 203.67L508.55 203.72L508.8 203.72L509.05 203.67L509.3 203.58L509.55 203.46L509.8 203.34L510.05 203.23L510.3 203.16L510.55 203.13L510.8 203.15L511.05 203.19L511.3 203.25L511.55 203.33" fill="none" stroke="url(#gD)" stroke-width="1.3" stroke-linejoin="round" stroke-linecap="round"/>
<line x1="462.1" y1="133.7" x2="484.3" y2="133.7" stroke="#8e3530" stroke-width="1.35"/>
<line x1="462.1" y1="145.9" x2="484.3" y2="145.9" stroke="#78a058" stroke-width="1.4"/>
<text x="488.3" y="135.8" font-size="7.3" fill="#2e2e2e">-µPlm</text>
<text x="488.4" y="148.1" font-size="7.3" fill="#2e2e2e">+µPlm</text>
<line x1="241.2" y1="212.4" x2="511.5" y2="212.4" stroke="#111" stroke-width="1.5"/>
<line x1="250.6" y1="212.4" x2="250.6" y2="215.4" stroke="#111" stroke-width="1.1"/>
<text x="250.6" y="226.2" font-size="8.15" text-anchor="middle" textLength="11.54" lengthAdjust="spacingAndGlyphs" fill="#2e2e2e">8.4</text>
<line x1="280.38" y1="212.4" x2="280.38" y2="215.4" stroke="#111" stroke-width="1.1"/>
<text x="280.38" y="226.2" font-size="8.15" text-anchor="middle" textLength="11.54" lengthAdjust="spacingAndGlyphs" fill="#2e2e2e">8.2</text>
<line x1="310.16" y1="212.4" x2="310.16" y2="215.4" stroke="#111" stroke-width="1.1"/>
<text x="310.16" y="226.2" font-size="8.15" text-anchor="middle" textLength="11.54" lengthAdjust="spacingAndGlyphs" fill="#2e2e2e">8.0</text>
<line x1="339.94" y1="212.4" x2="339.94" y2="215.4" stroke="#111" stroke-width="1.1"/>
<text x="339.94" y="226.2" font-size="8.15" text-anchor="middle" textLength="11.54" lengthAdjust="spacingAndGlyphs" fill="#2e2e2e">7.8</text>
<line x1="369.72" y1="212.4" x2="369.72" y2="215.4" stroke="#111" stroke-width="1.1"/>
<text x="369.72" y="226.2" font-size="8.15" text-anchor="middle" textLength="11.54" lengthAdjust="spacingAndGlyphs" fill="#2e2e2e">7.6</text>
<line x1="399.5" y1="212.4" x2="399.5" y2="215.4" stroke="#111" stroke-width="1.1"/>
<text x="399.5" y="226.2" font-size="8.15" text-anchor="middle" textLength="11.54" lengthAdjust="spacingAndGlyphs" fill="#2e2e2e">7.4</text>
<line x1="429.28" y1="212.4" x2="429.28" y2="215.4" stroke="#111" stroke-width="1.1"/>
<text x="429.28" y="226.2" font-size="8.15" text-anchor="middle" textLength="11.54" lengthAdjust="spacingAndGlyphs" fill="#2e2e2e">7.2</text>
<line x1="459.06" y1="212.4" x2="459.06" y2="215.4" stroke="#111" stroke-width="1.1"/>
<text x="459.06" y="226.2" font-size="8.15" text-anchor="middle" textLength="11.54" lengthAdjust="spacingAndGlyphs" fill="#2e2e2e">7.0</text>
<line x1="488.84" y1="212.4" x2="488.84" y2="215.4" stroke="#111" stroke-width="1.1"/>
<text x="488.84" y="226.2" font-size="8.15" text-anchor="middle" textLength="11.54" lengthAdjust="spacingAndGlyphs" fill="#2e2e2e">6.8</text>
<line x1="265.49" y1="212.4" x2="265.49" y2="214.3" stroke="#111" stroke-width="1.1"/>
<line x1="295.27" y1="212.4" x2="295.27" y2="214.3" stroke="#111" stroke-width="1.1"/>
<line x1="325.05" y1="212.4" x2="325.05" y2="214.3" stroke="#111" stroke-width="1.1"/>
<line x1="354.83" y1="212.4" x2="354.83" y2="214.3" stroke="#111" stroke-width="1.1"/>
<line x1="384.61" y1="212.4" x2="384.61" y2="214.3" stroke="#111" stroke-width="1.1"/>
<line x1="414.39" y1="212.4" x2="414.39" y2="214.3" stroke="#111" stroke-width="1.1"/>
<line x1="444.17" y1="212.4" x2="444.17" y2="214.3" stroke="#111" stroke-width="1.1"/>
<line x1="473.95" y1="212.4" x2="473.95" y2="214.3" stroke="#111" stroke-width="1.1"/>
<line x1="503.73" y1="212.4" x2="503.73" y2="214.3" stroke="#111" stroke-width="1.1"/>
<path d="M363.05 235.4L363.95 234.4L363.95 238.3" fill="none" stroke="#333" stroke-width="0.85"/>
<text x="365.1" y="242.9" font-size="8.4" textLength="4.3" lengthAdjust="spacingAndGlyphs" fill="#2e2e2e" stroke="#2e2e2e" stroke-width="0.32">H</text>
<text x="372.8" y="242.9" font-size="8.4" textLength="18.3" lengthAdjust="spacingAndGlyphs" fill="#2e2e2e" stroke="#2e2e2e" stroke-width="0.32">(ppm)</text>
<text x="228.8" y="272.4" font-size="12.0" font-weight="bold" fill="#000">E</text>
<path d="M344.5 344.11L344.75 344.05L345 343.97L345.25 343.86L345.5 343.7L345.75 343.46L346 343.14L346.25 342.74L346.5 342.31L346.75 341.93L347 341.68L347.25 341.62L347.5 341.77L347.75 342.1L348 342.52L348.25 342.96L348.5 343.35L348.75 343.65L349 343.85L349.25 343.97L349.5 344.03L349.75 344.03L350 343.99L350.25 343.88L350.5 343.69L350.75 343.39L351 343L351.25 342.53L351.5 342.05L351.75 341.66L352 341.43L352.25 341.43L352.5 341.65L352.75 342.03L353 342.5L353.25 342.97L353.5 343.38L353.75 343.69L354 343.91L354.25 344.05L354.5 344.14L354.75 344.2L355 344.23" fill="none" stroke="#4a2a22" stroke-width="1.3" stroke-linejoin="round" stroke-linecap="round"/>
<path d="M417.75 300.25L418 281.73L418.25 266.39L418.5 264.68L418.75 278.11L419 296.71" fill="none" stroke="#5a1a20" stroke-width="1.3" stroke-linejoin="round" stroke-linecap="round"/>
<path d="M240.5 344.2L240.75 344.27L241 344.35L241.25 344.44L241.5 344.52L241.75 344.59L242 344.63L242.25 344.64L242.5 344.62L242.75 344.58L243 344.53L243.25 344.48L243.5 344.44L243.75 344.42L244 344.41L244.25 344.41L244.5 344.41L244.75 344.4L245 344.39L245.25 344.36L245.5 344.33L245.75 344.3L246 344.27L246.25 344.25L246.5 344.25L246.75 344.28L247 344.31L247.25 344.35L247.5 344.39L247.75 344.42L248 344.44L248.25 344.43L248.5 344.4L248.75 344.36L249 344.31L249.25 344.27L249.5 344.22L249.75 344.19L250 344.17L250.25 344.16L250.5 344.16L250.75 344.17L251 344.2L251.25 344.23L251.5 344.27L251.75 344.32L252 344.36L252.25 344.4L252.5 344.43L252.75 344.45L253 344.46L253.25 344.45L253.5 344.44L253.75 344.42L254 344.39L254.25 344.36L254.5 344.33L254.75 344.3L255 344.28L255.25 344.26L255.5 344.26L255.75 344.26L256 344.28L256.25 344.3L256.5 344.33L256.75 344.36L257 344.39L257.25 344.42L257.5 344.44L257.75 344.45L258 344.45L258.25 344.44L258.5 344.41L258.75 344.37L259 344.32L259.25 344.27L259.5 344.21L259.75 344.16L260 344.11L260.25 344.07L260.5 344.05L260.75 344.04L261 344.06L261.25 344.09L261.5 344.15L261.75 344.22L262 344.29L262.25 344.37L262.5 344.43L262.75 344.48L263 344.49L263.25 344.47L263.5 344.4L263.75 344.28L264 344.1L264.25 343.83L264.5 343.44L264.75 342.92L265 342.3L265.25 341.69L265.5 341.21L265.75 341.02L266 341.16L266.25 341.61L266.5 342.26L266.75 342.97L267 343.65L267.25 344.24L267.5 344.72L267.75 345.06L268 345.2L268.25 345.07L268.5 344.59L268.75 343.72L269 342.43L269.25 340.77L269.5 338.94L269.75 337.25L270 336.1L270.25 335.79L270.5 336.4L270.75 337.78L271 339.56L271.25 341.37L271.5 342.93L271.75 344.09L272 344.81L272.25 345.11L272.5 345.05L272.75 344.69L273 344.07L273.25 343.25L273.5 342.27L273.75 341.26L274 340.39L274.25 339.86L274.5 339.79L274.75 340.21L275 340.99L275.25 341.93L275.5 342.82L275.75 343.53L276 344.02L276.25 344.31L276.5 344.46L276.75 344.5L277 344.48L277.25 344.44L277.5 344.39L277.75 344.35L278 344.33L278.25 344.34L278.5 344.37L278.75 344.4L279 344.44L279.25 344.46L279.5 344.46L279.75 344.42L280 344.36L280.25 344.29L280.5 344.21L280.75 344.14L281 344.1L281.25 344.09L281.5 344.1L281.75 344.14L282 344.18L282.25 344.24L282.5 344.29L282.75 344.33L283 344.37L283.25 344.4L283.5 344.42L283.75 344.44L284 344.45L284.25 344.46L284.5 344.46L284.75 344.46L285 344.45L285.25 344.44L285.5 344.42L285.75 344.4L286 344.38L286.25 344.35L286.5 344.32L286.75 344.29L287 344.25L287.25 344.21L287.5 344.17L287.75 344.13L288 344.1L288.25 344.06L288.5 344.04L288.75 344.01L289 344L289.25 343.99L289.5 343.99L289.75 344L290 344.01L290.25 344.05L290.5 344.09L290.75 344.13L291 344.19L291.25 344.24L291.5 344.29L291.75 344.34L292 344.38L292.25 344.41L292.5 344.43L292.75 344.44L293 344.45L293.25 344.44L293.5 344.43L293.75 344.4L294 344.37L294.25 344.33L294.5 344.28L294.75 344.23L295 344.17L295.25 344.12L295.5 344.07L295.75 344.03L296 344.02L296.25 344.02L296.5 344.03L296.75 344.05L297 344.08L297.25 344.09L297.5 344.09L297.75 344.06L298 344.03L298.25 343.99L298.5 343.95L298.75 343.92L299 343.91L299.25 343.92L299.5 343.95L299.75 344L300 344.04L300.25 344.09L300.5 344.12L300.75 344.14L301 344.15L301.25 344.15L301.5 344.15L301.75 344.15L302 344.16L302.25 344.18L302.5 344.2L302.75 344.23L303 344.26L303.25 344.28L303.5 344.29L303.75 344.28L304 344.27L304.25 344.25L304.5 344.22L304.75 344.19L305 344.17L305.25 344.15L305.5 344.14L305.75 344.13L306 344.13L306.25 344.12L306.5 344.12L306.75 344.12L307 344.12L307.25 344.11L307.5 344.11L307.75 344.11L308 344.1L308.25 344.1L308.5 344.09L308.75 344.09L309 344.1L309.25 344.11L309.5 344.13L309.75 344.16L310 344.2L310.25 344.25L310.5 344.3L310.75 344.35L311 344.4L311.25 344.45L311.5 344.5L311.75 344.53L312 344.56L312.25 344.58L312.5 344.57L312.75 344.56L313 344.53L313.25 344.49L313.5 344.45L313.75 344.41L314 344.38L314.25 344.36L314.5 344.35L314.75 344.35L315 344.35L315.25 344.34L315.5 344.33L315.75 344.3L316 344.27L316.25 344.24L316.5 344.21L316.75 344.18L317 344.17L317.25 344.18L317.5 344.19L317.75 344.22L318 344.25L318.25 344.28L318.5 344.31L318.75 344.33L319 344.34L319.25 344.35L319.5 344.36L319.75 344.37L320 344.38L320.25 344.4L320.5 344.43L320.75 344.45L321 344.47L321.25 344.49L321.5 344.5L321.75 344.49L322 344.48L322.25 344.47L322.5 344.45L322.75 344.44L323 344.44L323.25 344.45L323.5 344.46L323.75 344.47L324 344.48L324.25 344.48L324.5 344.46L324.75 344.43L325 344.39L325.25 344.34L325.5 344.29L325.75 344.25L326 344.22L326.25 344.21L326.5 344.22L326.75 344.24L327 344.26L327.25 344.29L327.5 344.31L327.75 344.32L328 344.33L328.25 344.34L328.5 344.35L328.75 344.36L329 344.38L329.25 344.41L329.5 344.44L329.75 344.47L330 344.49L330.25 344.51L330.5 344.51L330.75 344.5L331 344.47L331.25 344.43L331.5 344.39L331.75 344.34L332 344.29L332.25 344.25L332.5 344.22L332.75 344.2L333 344.18L333.25 344.17L333.5 344.16L333.75 344.16L334 344.17L334.25 344.19L334.5 344.2L334.75 344.22L335 344.24L335.25 344.25L335.5 344.27L335.75 344.29L336 344.31L336.25 344.33L336.5 344.36L336.75 344.39L337 344.41L337.25 344.43L337.5 344.44L337.75 344.43L338 344.41L338.25 344.36L338.5 344.29L338.75 344.22L339 344.15L339.25 344.1L339.5 344.06L339.75 344.06L340 344.08L340.25 344.11L340.5 344.16L340.75 344.22L341 344.27L341.25 344.31L341.5 344.34L341.75 344.35L342 344.36L342.25 344.37L342.5 344.36L342.75 344.35L343 344.34L343.25 344.32L343.5 344.29L343.75 344.25L344 344.21L344.25 344.17L344.5 344.12L344.75 344.08L345 344.03L345.25 343.97L345.5 343.9L345.75 343.79L346 343.62L346.25 343.38L346.5 343.09L346.75 342.78L347 342.52L347.25 342.35L347.5 342.32L347.75 342.45L348 342.7L348.25 343.01L348.5 343.32L348.75 343.59L349 343.8L349.25 343.94L349.5 344.02L349.75 344.05L350 344.06L350.25 344.02L350.5 343.93L350.75 343.78L351 343.55L351.25 343.23L351.5 342.87L351.75 342.52L352 342.24L352.25 342.09L352.5 342.12L352.75 342.31L353 342.62L353.25 342.98L353.5 343.33L353.75 343.63L354 343.86L354.25 344.02L354.5 344.12L354.75 344.19L355 344.23L355.25 344.25L355.5 344.27L355.75 344.28L356 344.29L356.25 344.31L356.5 344.33L356.75 344.35L357 344.37L357.25 344.39L357.5 344.4L357.75 344.41L358 344.41L358.25 344.4L358.5 344.39L358.75 344.35L359 344.31L359.25 344.26L359.5 344.19L359.75 344.13L360 344.07L360.25 344.02L360.5 343.99L360.75 343.98L361 343.99L361.25 344.03L361.5 344.07L361.75 344.14L362 344.21L362.25 344.29L362.5 344.38L362.75 344.46L363 344.53L363.25 344.59L363.5 344.63L363.75 344.64L364 344.64L364.25 344.63L364.5 344.6L364.75 344.57L365 344.53L365.25 344.49L365.5 344.45L365.75 344.42L366 344.39L366.25 344.36L366.5 344.34L366.75 344.32L367 344.3L367.25 344.29L367.5 344.28L367.75 344.28L368 344.28L368.25 344.29L368.5 344.3L368.75 344.31L369 344.32L369.25 344.32L369.5 344.32L369.75 344.31L370 344.29L370.25 344.27L370.5 344.26L370.75 344.25L371 344.25L371.25 344.26L371.5 344.27L371.75 344.3L372 344.33L372.25 344.36L372.5 344.4L372.75 344.44L373 344.46L373.25 344.48L373.5 344.48L373.75 344.46L374 344.43L374.25 344.37L374.5 344.29L374.75 344.22L375 344.15L375.25 344.09L375.5 344.06L375.75 344.06L376 344.09L376.25 344.13L376.5 344.19L376.75 344.24L377 344.28L377.25 344.32L377.5 344.33L377.75 344.34L378 344.34L378.25 344.34L378.5 344.33L378.75 344.33L379 344.34L379.25 344.34L379.5 344.35L379.75 344.36L380 344.37L380.25 344.37L380.5 344.36L380.75 344.35L381 344.31L381.25 344.27L381.5 344.2L381.75 344.11L382 344.01L382.25 343.91L382.5 343.79L382.75 343.7L383 343.64L383.25 343.64L383.5 343.69L383.75 343.79L384 343.91L384.25 344.04L384.5 344.13L384.75 344.17L385 344.15L385.25 344.08L385.5 343.97L385.75 343.85L386 343.76L386.25 343.73L386.5 343.76L386.75 343.86L387 344.01L387.25 344.17L387.5 344.31L387.75 344.38L388 344.37L388.25 344.26L388.5 344.09L388.75 343.9L389 343.74L389.25 343.65L389.5 343.64L389.75 343.71L390 343.86L390.25 344.04L390.5 344.21L390.75 344.31L391 344.32L391.25 344.23L391.5 344.05L391.75 343.8L392 343.54L392.25 343.31L392.5 343.16L392.75 343.12L393 343.18L393.25 343.33L393.5 343.54L393.75 343.75L394 343.91L394.25 344L394.5 343.98L394.75 343.87L395 343.68L395.25 343.46L395.5 343.24L395.75 343.1L396 343.04L396.25 343.11L396.5 343.27L396.75 343.52L397 343.8L397.25 344.05L397.5 344.21L397.75 344.26L398 344.18L398.25 343.97L398.5 343.69L398.75 343.39L399 343.13L399.25 342.96L399.5 342.92L399.75 343L400 343.18L400.25 343.42L400.5 343.65L400.75 343.82L401 343.89L401.25 343.86L401.5 343.72L401.75 343.53L402 343.32L402.25 343.16L402.5 343.08L402.75 343.11L403 343.24L403.25 343.46L403.5 343.7L403.75 343.92L404 344.08L404.25 344.14L404.5 344.08L404.75 343.92L405 343.7L405.25 343.46L405.5 343.26L405.75 343.14L406 343.13L406.25 343.22L406.5 343.4L406.75 343.62L407 343.84L407.25 344L407.5 344.08L407.75 344.06L408 343.94L408.25 343.74L408.5 343.53L408.75 343.33L409 343.21L409.25 343.17L409.5 343.23L409.75 343.36L410 343.54L410.25 343.71L410.5 343.84L410.75 343.89L411 343.84L411.25 343.71L411.5 343.52L411.75 343.3L412 343.1L412.25 342.96L412.5 342.89L412.75 342.92L413 343.02L413.25 343.15L413.5 343.27L413.75 343.35L414 343.33L414.25 343.21L414.5 342.97L414.75 342.64L415 342.22L415.25 341.96L415.5 341.62L415.75 341.16L416 340.54L416.25 339.67L416.5 338.37L416.75 336.28L417 332.67L417.25 326.37L417.5 316.07L417.75 301.06L418 282.89L418.25 267.83L418.5 266.15L418.75 279.33L419 297.59L419.25 313.45L419.5 324.67L419.75 331.65L420 335.67L420.25 338L420.5 339.44L420.75 340.44L421 341.19L421.25 341.49L421.5 341.74L421.75 342.01L422 342.33L422.25 342.71L422.5 343.12L422.75 343.52L423 343.86L423.25 344.09L423.5 344.18L423.75 344.15L424 344.02L424.25 343.83L424.5 343.65L424.75 343.54L425 343.53L425.25 343.64L425.5 343.84L425.75 344.1L426 344.35L426.25 344.54L426.5 344.61L426.75 344.54L427 344.34L427.25 344.04L427.5 343.72L427.75 343.43L428 343.24L428.25 343.2L428.5 343.32L428.75 343.56L429 343.88L429.25 344.21L429.5 344.48L429.75 344.64L430 344.66L430.25 344.54L430.5 344.32L430.75 344.07L431 343.86L431.25 343.73L431.5 343.73L431.75 343.86L432 344.08L432.25 344.35L432.5 344.58L432.75 344.72L433 344.73L433.25 344.6L433.5 344.36L433.75 344.06L434 344.02L434.25 344.07L434.5 344.15L434.75 344.25L435 344.34L435.25 344.42L435.5 344.46L435.75 344.47L436 344.44L436.25 344.38L436.5 344.31L436.75 344.24L437 344.17L437.25 344.13L437.5 344.1L437.75 344.09L438 344.1L438.25 344.13L438.5 344.17L438.75 344.21L439 344.26L439.25 344.3L439.5 344.34L439.75 344.38L440 344.39L440.25 344.4L440.5 344.38L440.75 344.35L441 344.32L441.25 344.28L441.5 344.24L441.75 344.22L442 344.2L442.25 344.19L442.5 344.18L442.75 344.18L443 344.17L443.25 344.15L443.5 344.14L443.75 344.13L444 344.13L444.25 344.14L444.5 344.17L444.75 344.21L445 344.27L445.25 344.33L445.5 344.39L445.75 344.43L446 344.47L446.25 344.48" fill="none" stroke="url(#gE)" stroke-width="1.45" stroke-linejoin="round" stroke-linecap="round"/>
<line x1="462.3" y1="266.1" x2="484.7" y2="266.1" stroke="#8e3530" stroke-width="1.35"/>
<line x1="462.3" y1="278.8" x2="484.7" y2="278.8" stroke="#78a058" stroke-width="1.4"/>
<text x="487.5" y="268.8" font-size="7.3" fill="#2e2e2e">-µPlm</text>
<text x="488.9" y="281.2" font-size="7.3" fill="#2e2e2e">+µPlm</text>
<line x1="240.4" y1="352.3" x2="446.2" y2="352.3" stroke="#111" stroke-width="1.5"/>
<line x1="265.1" y1="352.3" x2="265.1" y2="355.3" stroke="#111" stroke-width="1.1"/>
<text x="265.1" y="366" font-size="8.15" text-anchor="middle" textLength="11.54" lengthAdjust="spacingAndGlyphs" fill="#2e2e2e">2.4</text>
<line x1="294.45" y1="352.3" x2="294.45" y2="355.3" stroke="#111" stroke-width="1.1"/>
<text x="294.45" y="366" font-size="8.15" text-anchor="middle" textLength="11.54" lengthAdjust="spacingAndGlyphs" fill="#2e2e2e">2.3</text>
<line x1="323.8" y1="352.3" x2="323.8" y2="355.3" stroke="#111" stroke-width="1.1"/>
<text x="323.8" y="366" font-size="8.15" text-anchor="middle" textLength="11.54" lengthAdjust="spacingAndGlyphs" fill="#2e2e2e">2.2</text>
<line x1="353.15" y1="352.3" x2="353.15" y2="355.3" stroke="#111" stroke-width="1.1"/>
<text x="353.15" y="366" font-size="8.15" text-anchor="middle" textLength="11.54" lengthAdjust="spacingAndGlyphs" fill="#2e2e2e">2.1</text>
<line x1="382.5" y1="352.3" x2="382.5" y2="355.3" stroke="#111" stroke-width="1.1"/>
<text x="382.5" y="366" font-size="8.15" text-anchor="middle" textLength="11.54" lengthAdjust="spacingAndGlyphs" fill="#2e2e2e">2.0</text>
<line x1="411.85" y1="352.3" x2="411.85" y2="355.3" stroke="#111" stroke-width="1.1"/>
<text x="411.85" y="366" font-size="8.15" text-anchor="middle" textLength="11.54" lengthAdjust="spacingAndGlyphs" fill="#2e2e2e">1.9</text>
<line x1="441.2" y1="352.3" x2="441.2" y2="355.3" stroke="#111" stroke-width="1.1"/>
<text x="441.2" y="366" font-size="8.15" text-anchor="middle" textLength="11.54" lengthAdjust="spacingAndGlyphs" fill="#2e2e2e">1.8</text>
<path d="M329.85 376L330.75 375L330.75 378.9" fill="none" stroke="#333" stroke-width="0.85"/>
<text x="331.5" y="383.5" font-size="8.4" textLength="4.7" lengthAdjust="spacingAndGlyphs" fill="#2e2e2e" stroke="#2e2e2e" stroke-width="0.32">H</text>
<text x="339.7" y="383.5" font-size="8.4" textLength="18" lengthAdjust="spacingAndGlyphs" fill="#2e2e2e" stroke="#2e2e2e" stroke-width="0.32">(ppm)</text>
<rect x="0.7" y="0.7" width="518.6" height="391.6" fill="none" stroke="#000" stroke-width="1.4"/>
</svg>
</body></html>
